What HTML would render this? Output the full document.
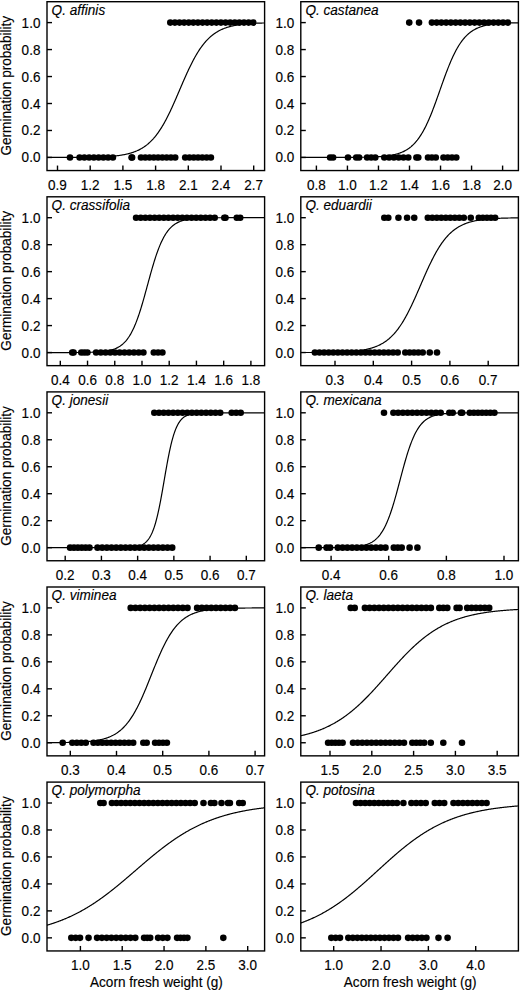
<!DOCTYPE html><html><head><meta charset="utf-8"><style>
html,body{margin:0;padding:0;background:#fff;}
svg{display:block;}
text{font-family:"Liberation Sans",sans-serif;fill:#000;stroke:#000;stroke-width:0.15px;}
</style></head><body>
<svg width="520" height="991" viewBox="0 0 520 991">
<rect width="520" height="991" fill="#fff"/>
<clipPath id="c00"><rect x="47.00" y="1.70" width="217.60" height="168.85"/></clipPath>
<polyline clip-path="url(#c00)" points="47.00,157.44 47.50,157.44 48.00,157.44 48.50,157.44 49.00,157.43 49.50,157.43 50.00,157.43 50.50,157.43 51.00,157.43 51.50,157.43 52.00,157.43 52.50,157.43 53.00,157.43 53.50,157.43 54.00,157.43 54.50,157.43 55.00,157.43 55.50,157.43 56.00,157.42 56.50,157.42 57.00,157.42 57.50,157.42 58.00,157.42 58.50,157.42 59.00,157.42 59.50,157.42 60.00,157.42 60.50,157.42 61.00,157.41 61.50,157.41 62.00,157.41 62.50,157.41 63.00,157.41 63.50,157.41 64.00,157.41 64.50,157.40 65.00,157.40 65.50,157.40 66.00,157.40 66.50,157.40 67.00,157.40 67.50,157.39 68.00,157.39 68.50,157.39 69.00,157.39 69.50,157.39 70.00,157.38 70.50,157.38 71.00,157.38 71.50,157.38 72.00,157.37 72.50,157.37 73.00,157.37 73.50,157.36 74.00,157.36 74.50,157.36 75.00,157.36 75.50,157.35 76.00,157.35 76.50,157.35 77.00,157.34 77.50,157.34 78.00,157.33 78.50,157.33 79.00,157.33 79.50,157.32 80.00,157.32 80.50,157.31 81.00,157.31 81.50,157.30 82.00,157.30 82.50,157.29 83.00,157.29 83.50,157.28 84.00,157.27 84.50,157.27 85.00,157.26 85.50,157.25 86.00,157.25 86.50,157.24 87.00,157.23 87.50,157.23 88.00,157.22 88.50,157.21 89.00,157.20 89.50,157.19 90.00,157.18 90.50,157.17 91.00,157.16 91.50,157.15 92.00,157.14 92.50,157.13 93.00,157.12 93.50,157.11 94.00,157.10 94.50,157.09 95.00,157.07 95.50,157.06 96.00,157.05 96.50,157.03 97.00,157.02 97.50,157.00 98.00,156.99 98.50,156.97 99.00,156.95 99.50,156.93 100.00,156.92 100.50,156.90 101.00,156.88 101.50,156.86 102.00,156.84 102.50,156.82 103.00,156.79 103.50,156.77 104.00,156.75 104.50,156.72 105.00,156.70 105.50,156.67 106.00,156.64 106.50,156.61 107.00,156.58 107.50,156.55 108.00,156.52 108.50,156.49 109.00,156.46 109.50,156.42 110.00,156.39 110.50,156.35 111.00,156.31 111.50,156.27 112.00,156.23 112.50,156.19 113.00,156.14 113.50,156.10 114.00,156.05 114.50,156.00 115.00,155.95 115.50,155.90 116.00,155.84 116.50,155.79 117.00,155.73 117.50,155.67 118.00,155.60 118.50,155.54 119.00,155.47 119.50,155.41 120.00,155.33 120.50,155.26 121.00,155.18 121.50,155.11 122.00,155.02 122.50,154.94 123.00,154.85 123.50,154.76 124.00,154.67 124.50,154.57 125.00,154.48 125.50,154.37 126.00,154.27 126.50,154.16 127.00,154.04 127.50,153.93 128.00,153.80 128.50,153.68 129.00,153.55 129.50,153.42 130.00,153.28 130.50,153.14 131.00,152.99 131.50,152.84 132.00,152.68 132.50,152.52 133.00,152.35 133.50,152.18 134.00,152.00 134.50,151.81 135.00,151.62 135.50,151.42 136.00,151.22 136.50,151.01 137.00,150.80 137.50,150.57 138.00,150.34 138.50,150.11 139.00,149.86 139.50,149.61 140.00,149.35 140.50,149.08 141.00,148.80 141.50,148.52 142.00,148.22 142.50,147.92 143.00,147.61 143.50,147.29 144.00,146.95 144.50,146.61 145.00,146.26 145.50,145.90 146.00,145.53 146.50,145.15 147.00,144.75 147.50,144.35 148.00,143.93 148.50,143.50 149.00,143.06 149.50,142.61 150.00,142.15 150.50,141.67 151.00,141.18 151.50,140.67 152.00,140.16 152.50,139.63 153.00,139.08 153.50,138.53 154.00,137.95 154.50,137.37 155.00,136.77 155.50,136.15 156.00,135.52 156.50,134.88 157.00,134.22 157.50,133.54 158.00,132.85 158.50,132.14 159.00,131.42 159.50,130.69 160.00,129.93 160.50,129.16 161.00,128.38 161.50,127.58 162.00,126.77 162.50,125.93 163.00,125.09 163.50,124.23 164.00,123.35 164.50,122.46 165.00,121.55 165.50,120.63 166.00,119.69 166.50,118.74 167.00,117.78 167.50,116.80 168.00,115.80 168.50,114.80 169.00,113.78 169.50,112.75 170.00,111.70 170.50,110.65 171.00,109.58 171.50,108.50 172.00,107.42 172.50,106.32 173.00,105.21 173.50,104.10 174.00,102.97 174.50,101.84 175.00,100.70 175.50,99.56 176.00,98.41 176.50,97.25 177.00,96.10 177.50,94.93 178.00,93.77 178.50,92.60 179.00,91.43 179.50,90.26 180.00,89.09 180.50,87.92 181.00,86.75 181.50,85.58 182.00,84.42 182.50,83.26 183.00,82.10 183.50,80.95 184.00,79.80 184.50,78.66 185.00,77.53 185.50,76.40 186.00,75.28 186.50,74.17 187.00,73.07 187.50,71.98 188.00,70.90 188.50,69.83 189.00,68.77 189.50,67.72 190.00,66.68 190.50,65.66 191.00,64.65 191.50,63.65 192.00,62.66 192.50,61.69 193.00,60.74 193.50,59.79 194.00,58.87 194.50,57.95 195.00,57.06 195.50,56.17 196.00,55.30 196.50,54.45 197.00,53.61 197.50,52.79 198.00,51.99 198.50,51.20 199.00,50.42 199.50,49.66 200.00,48.92 200.50,48.19 201.00,47.48 201.50,46.78 202.00,46.10 202.50,45.44 203.00,44.79 203.50,44.15 204.00,43.53 204.50,42.92 205.00,42.33 205.50,41.75 206.00,41.19 206.50,40.64 207.00,40.10 207.50,39.58 208.00,39.07 208.50,38.58 209.00,38.09 209.50,37.62 210.00,37.17 210.50,36.72 211.00,36.29 211.50,35.87 212.00,35.46 212.50,35.06 213.00,34.67 213.50,34.30 214.00,33.93 214.50,33.58 215.00,33.23 215.50,32.90 216.00,32.57 216.50,32.25 217.00,31.95 217.50,31.65 218.00,31.36 218.50,31.08 219.00,30.81 219.50,30.55 220.00,30.29 220.50,30.04 221.00,29.80 221.50,29.57 222.00,29.34 222.50,29.12 223.00,28.91 223.50,28.71 224.00,28.51 224.50,28.31 225.00,28.13 225.50,27.95 226.00,27.77 226.50,27.60 227.00,27.44 227.50,27.28 228.00,27.12 228.50,26.97 229.00,26.83 229.50,26.69 230.00,26.55 230.50,26.42 231.00,26.29 231.50,26.17 232.00,26.05 232.50,25.94 233.00,25.83 233.50,25.72 234.00,25.62 234.50,25.51 235.00,25.42 235.50,25.32 236.00,25.23 236.50,25.14 237.00,25.06 237.50,24.98 238.00,24.90 238.50,24.82 239.00,24.74 239.50,24.67 240.00,24.60 240.50,24.54 241.00,24.47 241.50,24.41 242.00,24.35 242.50,24.29 243.00,24.23 243.50,24.18 244.00,24.12 244.50,24.07 245.00,24.02 245.50,23.97 246.00,23.93 246.50,23.88 247.00,23.84 247.50,23.80 248.00,23.76 248.50,23.72 249.00,23.68 249.50,23.64 250.00,23.61 250.50,23.57 251.00,23.54 251.50,23.51 252.00,23.48 252.50,23.45 253.00,23.42 253.50,23.39 254.00,23.36 254.50,23.34 255.00,23.31 255.50,23.29 256.00,23.27 256.50,23.24 257.00,23.22 257.50,23.20 258.00,23.18 258.50,23.16 259.00,23.14 259.50,23.12 260.00,23.11 260.50,23.09 261.00,23.07 261.50,23.06 262.00,23.04 262.50,23.02 263.00,23.01 263.50,23.00 264.00,22.98 264.50,22.97" fill="none" stroke="#000" stroke-width="1.20"/>
<circle cx="170.30" cy="22.60" r="3.30"/>
<circle cx="174.91" cy="22.60" r="3.30"/>
<circle cx="179.51" cy="22.60" r="3.30"/>
<circle cx="184.12" cy="22.60" r="3.30"/>
<circle cx="188.72" cy="22.60" r="3.30"/>
<circle cx="193.33" cy="22.60" r="3.30"/>
<circle cx="197.93" cy="22.60" r="3.30"/>
<circle cx="202.54" cy="22.60" r="3.30"/>
<circle cx="207.14" cy="22.60" r="3.30"/>
<circle cx="211.75" cy="22.60" r="3.30"/>
<circle cx="216.36" cy="22.60" r="3.30"/>
<circle cx="220.96" cy="22.60" r="3.30"/>
<circle cx="225.57" cy="22.60" r="3.30"/>
<circle cx="230.17" cy="22.60" r="3.30"/>
<circle cx="234.78" cy="22.60" r="3.30"/>
<circle cx="239.38" cy="22.60" r="3.30"/>
<circle cx="243.99" cy="22.60" r="3.30"/>
<circle cx="248.59" cy="22.60" r="3.30"/>
<circle cx="253.20" cy="22.60" r="3.30"/>
<circle cx="70.00" cy="157.45" r="3.30"/>
<circle cx="79.60" cy="157.45" r="3.30"/>
<circle cx="84.36" cy="157.45" r="3.30"/>
<circle cx="89.11" cy="157.45" r="3.30"/>
<circle cx="93.87" cy="157.45" r="3.30"/>
<circle cx="98.63" cy="157.45" r="3.30"/>
<circle cx="103.39" cy="157.45" r="3.30"/>
<circle cx="108.14" cy="157.45" r="3.30"/>
<circle cx="112.90" cy="157.45" r="3.30"/>
<circle cx="131.60" cy="157.45" r="3.30"/>
<circle cx="132.10" cy="157.45" r="3.30"/>
<circle cx="141.00" cy="157.45" r="3.30"/>
<circle cx="145.28" cy="157.45" r="3.30"/>
<circle cx="149.55" cy="157.45" r="3.30"/>
<circle cx="153.82" cy="157.45" r="3.30"/>
<circle cx="158.10" cy="157.45" r="3.30"/>
<circle cx="162.38" cy="157.45" r="3.30"/>
<circle cx="166.65" cy="157.45" r="3.30"/>
<circle cx="170.92" cy="157.45" r="3.30"/>
<circle cx="175.20" cy="157.45" r="3.30"/>
<circle cx="185.20" cy="157.45" r="3.30"/>
<circle cx="189.48" cy="157.45" r="3.30"/>
<circle cx="193.77" cy="157.45" r="3.30"/>
<circle cx="198.05" cy="157.45" r="3.30"/>
<circle cx="202.33" cy="157.45" r="3.30"/>
<circle cx="206.62" cy="157.45" r="3.30"/>
<circle cx="210.90" cy="157.45" r="3.30"/>
<rect x="47.00" y="1.70" width="217.60" height="168.85" fill="none" stroke="#000" stroke-width="1.40"/>
<line x1="47.00" y1="157.45" x2="52.00" y2="157.45" stroke="#000" stroke-width="1.40"/>
<text transform="translate(40.40,162.45) scale(0.965,1)" font-size="14.00" text-anchor="end">0.0</text>
<line x1="47.00" y1="130.48" x2="52.00" y2="130.48" stroke="#000" stroke-width="1.40"/>
<text transform="translate(40.40,135.48) scale(0.965,1)" font-size="14.00" text-anchor="end">0.2</text>
<line x1="47.00" y1="103.51" x2="52.00" y2="103.51" stroke="#000" stroke-width="1.40"/>
<text transform="translate(40.40,108.51) scale(0.965,1)" font-size="14.00" text-anchor="end">0.4</text>
<line x1="47.00" y1="76.54" x2="52.00" y2="76.54" stroke="#000" stroke-width="1.40"/>
<text transform="translate(40.40,81.54) scale(0.965,1)" font-size="14.00" text-anchor="end">0.6</text>
<line x1="47.00" y1="49.57" x2="52.00" y2="49.57" stroke="#000" stroke-width="1.40"/>
<text transform="translate(40.40,54.57) scale(0.965,1)" font-size="14.00" text-anchor="end">0.8</text>
<line x1="47.00" y1="22.60" x2="52.00" y2="22.60" stroke="#000" stroke-width="1.40"/>
<text transform="translate(40.40,27.60) scale(0.965,1)" font-size="14.00" text-anchor="end">1.0</text>
<line x1="57.50" y1="170.55" x2="57.50" y2="165.55" stroke="#000" stroke-width="1.40"/>
<text transform="translate(57.50,189.70) scale(0.965,1)" font-size="14.00" text-anchor="middle">0.9</text>
<line x1="90.20" y1="170.55" x2="90.20" y2="165.55" stroke="#000" stroke-width="1.40"/>
<text transform="translate(90.20,189.70) scale(0.965,1)" font-size="14.00" text-anchor="middle">1.2</text>
<line x1="122.90" y1="170.55" x2="122.90" y2="165.55" stroke="#000" stroke-width="1.40"/>
<text transform="translate(122.90,189.70) scale(0.965,1)" font-size="14.00" text-anchor="middle">1.5</text>
<line x1="155.60" y1="170.55" x2="155.60" y2="165.55" stroke="#000" stroke-width="1.40"/>
<text transform="translate(155.60,189.70) scale(0.965,1)" font-size="14.00" text-anchor="middle">1.8</text>
<line x1="188.30" y1="170.55" x2="188.30" y2="165.55" stroke="#000" stroke-width="1.40"/>
<text transform="translate(188.30,189.70) scale(0.965,1)" font-size="14.00" text-anchor="middle">2.1</text>
<line x1="221.00" y1="170.55" x2="221.00" y2="165.55" stroke="#000" stroke-width="1.40"/>
<text transform="translate(221.00,189.70) scale(0.965,1)" font-size="14.00" text-anchor="middle">2.4</text>
<line x1="253.70" y1="170.55" x2="253.70" y2="165.55" stroke="#000" stroke-width="1.40"/>
<text transform="translate(253.70,189.70) scale(0.965,1)" font-size="14.00" text-anchor="middle">2.7</text>
<text transform="translate(51.60,14.60) scale(0.971,1)" font-size="14.00" font-style="italic">Q. affinis</text>
<text transform="translate(10.80,85.72) rotate(-90) scale(0.971,1)" font-size="14.00" text-anchor="middle">Germination probability</text>
<clipPath id="c01"><rect x="300.80" y="1.70" width="217.60" height="168.85"/></clipPath>
<polyline clip-path="url(#c01)" points="300.80,157.45 301.30,157.45 301.80,157.45 302.30,157.45 302.80,157.45 303.30,157.45 303.80,157.45 304.30,157.45 304.80,157.45 305.30,157.45 305.80,157.45 306.30,157.45 306.80,157.45 307.30,157.45 307.80,157.45 308.30,157.45 308.80,157.45 309.30,157.45 309.80,157.45 310.30,157.45 310.80,157.45 311.30,157.45 311.80,157.45 312.30,157.45 312.80,157.45 313.30,157.45 313.80,157.45 314.30,157.45 314.80,157.45 315.30,157.45 315.80,157.45 316.30,157.45 316.80,157.45 317.30,157.45 317.80,157.45 318.30,157.45 318.80,157.45 319.30,157.44 319.80,157.44 320.30,157.44 320.80,157.44 321.30,157.44 321.80,157.44 322.30,157.44 322.80,157.44 323.30,157.44 323.80,157.44 324.30,157.44 324.80,157.44 325.30,157.44 325.80,157.44 326.30,157.44 326.80,157.44 327.30,157.44 327.80,157.44 328.30,157.44 328.80,157.44 329.30,157.44 329.80,157.44 330.30,157.44 330.80,157.44 331.30,157.44 331.80,157.44 332.30,157.43 332.80,157.43 333.30,157.43 333.80,157.43 334.30,157.43 334.80,157.43 335.30,157.43 335.80,157.43 336.30,157.43 336.80,157.43 337.30,157.43 337.80,157.43 338.30,157.42 338.80,157.42 339.30,157.42 339.80,157.42 340.30,157.42 340.80,157.42 341.30,157.42 341.80,157.42 342.30,157.41 342.80,157.41 343.30,157.41 343.80,157.41 344.30,157.41 344.80,157.41 345.30,157.40 345.80,157.40 346.30,157.40 346.80,157.40 347.30,157.40 347.80,157.39 348.30,157.39 348.80,157.39 349.30,157.39 349.80,157.38 350.30,157.38 350.80,157.38 351.30,157.37 351.80,157.37 352.30,157.37 352.80,157.36 353.30,157.36 353.80,157.36 354.30,157.35 354.80,157.35 355.30,157.34 355.80,157.34 356.30,157.33 356.80,157.33 357.30,157.32 357.80,157.32 358.30,157.31 358.80,157.31 359.30,157.30 359.80,157.29 360.30,157.29 360.80,157.28 361.30,157.27 361.80,157.27 362.30,157.26 362.80,157.25 363.30,157.24 363.80,157.23 364.30,157.22 364.80,157.21 365.30,157.20 365.80,157.19 366.30,157.18 366.80,157.17 367.30,157.16 367.80,157.14 368.30,157.13 368.80,157.12 369.30,157.10 369.80,157.09 370.30,157.07 370.80,157.06 371.30,157.04 371.80,157.02 372.30,157.00 372.80,156.98 373.30,156.96 373.80,156.94 374.30,156.92 374.80,156.90 375.30,156.88 375.80,156.85 376.30,156.83 376.80,156.80 377.30,156.77 377.80,156.74 378.30,156.71 378.80,156.68 379.30,156.65 379.80,156.61 380.30,156.58 380.80,156.54 381.30,156.50 381.80,156.46 382.30,156.42 382.80,156.37 383.30,156.33 383.80,156.28 384.30,156.23 384.80,156.18 385.30,156.12 385.80,156.07 386.30,156.01 386.80,155.95 387.30,155.88 387.80,155.82 388.30,155.75 388.80,155.67 389.30,155.60 389.80,155.52 390.30,155.44 390.80,155.35 391.30,155.27 391.80,155.17 392.30,155.08 392.80,154.98 393.30,154.87 393.80,154.76 394.30,154.65 394.80,154.53 395.30,154.41 395.80,154.28 396.30,154.15 396.80,154.01 397.30,153.86 397.80,153.71 398.30,153.56 398.80,153.40 399.30,153.23 399.80,153.05 400.30,152.87 400.80,152.68 401.30,152.48 401.80,152.27 402.30,152.06 402.80,151.84 403.30,151.61 403.80,151.37 404.30,151.12 404.80,150.86 405.30,150.59 405.80,150.31 406.30,150.02 406.80,149.71 407.30,149.40 407.80,149.08 408.30,148.74 408.80,148.39 409.30,148.03 409.80,147.65 410.30,147.26 410.80,146.86 411.30,146.44 411.80,146.00 412.30,145.55 412.80,145.09 413.30,144.61 413.80,144.11 414.30,143.59 414.80,143.06 415.30,142.51 415.80,141.94 416.30,141.35 416.80,140.74 417.30,140.12 417.80,139.47 418.30,138.80 418.80,138.12 419.30,137.41 419.80,136.68 420.30,135.93 420.80,135.15 421.30,134.36 421.80,133.54 422.30,132.70 422.80,131.83 423.30,130.95 423.80,130.04 424.30,129.11 424.80,128.15 425.30,127.17 425.80,126.17 426.30,125.15 426.80,124.10 427.30,123.03 427.80,121.94 428.30,120.82 428.80,119.69 429.30,118.53 429.80,117.35 430.30,116.16 430.80,114.94 431.30,113.70 431.80,112.45 432.30,111.17 432.80,109.89 433.30,108.58 433.80,107.26 434.30,105.92 434.80,104.57 435.30,103.21 435.80,101.84 436.30,100.46 436.80,99.07 437.30,97.67 437.80,96.26 438.30,94.85 438.80,93.43 439.30,92.01 439.80,90.59 440.30,89.17 440.80,87.75 441.30,86.33 441.80,84.92 442.30,83.51 442.80,82.10 443.30,80.70 443.80,79.31 444.30,77.93 444.80,76.56 445.30,75.21 445.80,73.86 446.30,72.53 446.80,71.21 447.30,69.91 447.80,68.62 448.30,67.35 448.80,66.10 449.30,64.87 449.80,63.65 450.30,62.46 450.80,61.28 451.30,60.13 451.80,59.00 452.30,57.89 452.80,56.80 453.30,55.74 453.80,54.70 454.30,53.68 454.80,52.68 455.30,51.71 455.80,50.76 456.30,49.83 456.80,48.92 457.30,48.04 457.80,47.18 458.30,46.35 458.80,45.53 459.30,44.74 459.80,43.97 460.30,43.23 460.80,42.50 461.30,41.80 461.80,41.11 462.30,40.45 462.80,39.81 463.30,39.18 463.80,38.58 464.30,37.99 464.80,37.43 465.30,36.88 465.80,36.35 466.30,35.84 466.80,35.35 467.30,34.87 467.80,34.41 468.30,33.96 468.80,33.53 469.30,33.11 469.80,32.71 470.30,32.32 470.80,31.95 471.30,31.59 471.80,31.24 472.30,30.91 472.80,30.58 473.30,30.27 473.80,29.97 474.30,29.69 474.80,29.41 475.30,29.14 475.80,28.88 476.30,28.64 476.80,28.40 477.30,28.17 477.80,27.95 478.30,27.73 478.80,27.53 479.30,27.33 479.80,27.15 480.30,26.96 480.80,26.79 481.30,26.62 481.80,26.46 482.30,26.31 482.80,26.16 483.30,26.01 483.80,25.88 484.30,25.74 484.80,25.62 485.30,25.49 485.80,25.38 486.30,25.27 486.80,25.16 487.30,25.05 487.80,24.95 488.30,24.86 488.80,24.77 489.30,24.68 489.80,24.59 490.30,24.51 490.80,24.44 491.30,24.36 491.80,24.29 492.30,24.22 492.80,24.15 493.30,24.09 493.80,24.03 494.30,23.97 494.80,23.91 495.30,23.86 495.80,23.81 496.30,23.76 496.80,23.71 497.30,23.67 497.80,23.62 498.30,23.58 498.80,23.54 499.30,23.50 499.80,23.47 500.30,23.43 500.80,23.40 501.30,23.36 501.80,23.33 502.30,23.30 502.80,23.27 503.30,23.25 503.80,23.22 504.30,23.19 504.80,23.17 505.30,23.15 505.80,23.12 506.30,23.10 506.80,23.08 507.30,23.06 507.80,23.04 508.30,23.02 508.80,23.01 509.30,22.99 509.80,22.97 510.30,22.96 510.80,22.94 511.30,22.93 511.80,22.92 512.30,22.90 512.80,22.89 513.30,22.88 513.80,22.87 514.30,22.86 514.80,22.85 515.30,22.84 515.80,22.83 516.30,22.82 516.80,22.81 517.30,22.80 517.80,22.79 518.30,22.78" fill="none" stroke="#000" stroke-width="1.20"/>
<circle cx="409.25" cy="22.60" r="3.30"/>
<circle cx="419.05" cy="22.60" r="3.30"/>
<circle cx="431.90" cy="22.60" r="3.30"/>
<circle cx="436.64" cy="22.60" r="3.30"/>
<circle cx="441.39" cy="22.60" r="3.30"/>
<circle cx="446.13" cy="22.60" r="3.30"/>
<circle cx="450.88" cy="22.60" r="3.30"/>
<circle cx="455.62" cy="22.60" r="3.30"/>
<circle cx="460.36" cy="22.60" r="3.30"/>
<circle cx="465.11" cy="22.60" r="3.30"/>
<circle cx="469.85" cy="22.60" r="3.30"/>
<circle cx="474.59" cy="22.60" r="3.30"/>
<circle cx="479.34" cy="22.60" r="3.30"/>
<circle cx="484.08" cy="22.60" r="3.30"/>
<circle cx="488.83" cy="22.60" r="3.30"/>
<circle cx="493.57" cy="22.60" r="3.30"/>
<circle cx="498.31" cy="22.60" r="3.30"/>
<circle cx="503.06" cy="22.60" r="3.30"/>
<circle cx="507.80" cy="22.60" r="3.30"/>
<circle cx="330.10" cy="157.45" r="3.30"/>
<circle cx="333.10" cy="157.45" r="3.30"/>
<circle cx="348.00" cy="157.45" r="3.30"/>
<circle cx="356.20" cy="157.45" r="3.30"/>
<circle cx="359.10" cy="157.45" r="3.30"/>
<circle cx="367.10" cy="157.45" r="3.30"/>
<circle cx="371.20" cy="157.45" r="3.30"/>
<circle cx="375.30" cy="157.45" r="3.30"/>
<circle cx="384.30" cy="157.45" r="3.30"/>
<circle cx="389.10" cy="157.45" r="3.30"/>
<circle cx="393.90" cy="157.45" r="3.30"/>
<circle cx="398.70" cy="157.45" r="3.30"/>
<circle cx="403.50" cy="157.45" r="3.30"/>
<circle cx="408.30" cy="157.45" r="3.30"/>
<circle cx="416.40" cy="157.45" r="3.30"/>
<circle cx="418.30" cy="157.45" r="3.30"/>
<circle cx="428.00" cy="157.45" r="3.30"/>
<circle cx="431.90" cy="157.45" r="3.30"/>
<circle cx="435.80" cy="157.45" r="3.30"/>
<circle cx="443.50" cy="157.45" r="3.30"/>
<circle cx="447.77" cy="157.45" r="3.30"/>
<circle cx="452.03" cy="157.45" r="3.30"/>
<circle cx="456.30" cy="157.45" r="3.30"/>
<rect x="300.80" y="1.70" width="217.60" height="168.85" fill="none" stroke="#000" stroke-width="1.40"/>
<line x1="300.80" y1="157.45" x2="305.80" y2="157.45" stroke="#000" stroke-width="1.40"/>
<text transform="translate(294.20,162.45) scale(0.965,1)" font-size="14.00" text-anchor="end">0.0</text>
<line x1="300.80" y1="130.48" x2="305.80" y2="130.48" stroke="#000" stroke-width="1.40"/>
<text transform="translate(294.20,135.48) scale(0.965,1)" font-size="14.00" text-anchor="end">0.2</text>
<line x1="300.80" y1="103.51" x2="305.80" y2="103.51" stroke="#000" stroke-width="1.40"/>
<text transform="translate(294.20,108.51) scale(0.965,1)" font-size="14.00" text-anchor="end">0.4</text>
<line x1="300.80" y1="76.54" x2="305.80" y2="76.54" stroke="#000" stroke-width="1.40"/>
<text transform="translate(294.20,81.54) scale(0.965,1)" font-size="14.00" text-anchor="end">0.6</text>
<line x1="300.80" y1="49.57" x2="305.80" y2="49.57" stroke="#000" stroke-width="1.40"/>
<text transform="translate(294.20,54.57) scale(0.965,1)" font-size="14.00" text-anchor="end">0.8</text>
<line x1="300.80" y1="22.60" x2="305.80" y2="22.60" stroke="#000" stroke-width="1.40"/>
<text transform="translate(294.20,27.60) scale(0.965,1)" font-size="14.00" text-anchor="end">1.0</text>
<line x1="316.40" y1="170.55" x2="316.40" y2="165.55" stroke="#000" stroke-width="1.40"/>
<text transform="translate(316.40,189.70) scale(0.965,1)" font-size="14.00" text-anchor="middle">0.8</text>
<line x1="347.43" y1="170.55" x2="347.43" y2="165.55" stroke="#000" stroke-width="1.40"/>
<text transform="translate(347.43,189.70) scale(0.965,1)" font-size="14.00" text-anchor="middle">1.0</text>
<line x1="378.47" y1="170.55" x2="378.47" y2="165.55" stroke="#000" stroke-width="1.40"/>
<text transform="translate(378.47,189.70) scale(0.965,1)" font-size="14.00" text-anchor="middle">1.2</text>
<line x1="409.50" y1="170.55" x2="409.50" y2="165.55" stroke="#000" stroke-width="1.40"/>
<text transform="translate(409.50,189.70) scale(0.965,1)" font-size="14.00" text-anchor="middle">1.4</text>
<line x1="440.53" y1="170.55" x2="440.53" y2="165.55" stroke="#000" stroke-width="1.40"/>
<text transform="translate(440.53,189.70) scale(0.965,1)" font-size="14.00" text-anchor="middle">1.6</text>
<line x1="471.57" y1="170.55" x2="471.57" y2="165.55" stroke="#000" stroke-width="1.40"/>
<text transform="translate(471.57,189.70) scale(0.965,1)" font-size="14.00" text-anchor="middle">1.8</text>
<line x1="502.60" y1="170.55" x2="502.60" y2="165.55" stroke="#000" stroke-width="1.40"/>
<text transform="translate(502.60,189.70) scale(0.965,1)" font-size="14.00" text-anchor="middle">2.0</text>
<text transform="translate(305.40,14.60) scale(0.971,1)" font-size="14.00" font-style="italic">Q. castanea</text>
<clipPath id="c10"><rect x="47.00" y="196.80" width="217.60" height="168.85"/></clipPath>
<polyline clip-path="url(#c10)" points="47.00,352.55 47.50,352.55 48.00,352.55 48.50,352.55 49.00,352.55 49.50,352.55 50.00,352.55 50.50,352.55 51.00,352.55 51.50,352.55 52.00,352.55 52.50,352.55 53.00,352.55 53.50,352.55 54.00,352.55 54.50,352.54 55.00,352.54 55.50,352.54 56.00,352.54 56.50,352.54 57.00,352.54 57.50,352.54 58.00,352.54 58.50,352.54 59.00,352.54 59.50,352.54 60.00,352.54 60.50,352.54 61.00,352.54 61.50,352.54 62.00,352.54 62.50,352.54 63.00,352.54 63.50,352.54 64.00,352.54 64.50,352.53 65.00,352.53 65.50,352.53 66.00,352.53 66.50,352.53 67.00,352.53 67.50,352.53 68.00,352.53 68.50,352.53 69.00,352.52 69.50,352.52 70.00,352.52 70.50,352.52 71.00,352.52 71.50,352.52 72.00,352.51 72.50,352.51 73.00,352.51 73.50,352.51 74.00,352.51 74.50,352.50 75.00,352.50 75.50,352.50 76.00,352.50 76.50,352.49 77.00,352.49 77.50,352.49 78.00,352.48 78.50,352.48 79.00,352.47 79.50,352.47 80.00,352.47 80.50,352.46 81.00,352.46 81.50,352.45 82.00,352.44 82.50,352.44 83.00,352.43 83.50,352.43 84.00,352.42 84.50,352.41 85.00,352.40 85.50,352.40 86.00,352.39 86.50,352.38 87.00,352.37 87.50,352.36 88.00,352.35 88.50,352.34 89.00,352.32 89.50,352.31 90.00,352.30 90.50,352.28 91.00,352.27 91.50,352.25 92.00,352.24 92.50,352.22 93.00,352.20 93.50,352.18 94.00,352.16 94.50,352.14 95.00,352.11 95.50,352.09 96.00,352.06 96.50,352.04 97.00,352.01 97.50,351.98 98.00,351.95 98.50,351.91 99.00,351.88 99.50,351.84 100.00,351.80 100.50,351.76 101.00,351.71 101.50,351.67 102.00,351.62 102.50,351.57 103.00,351.51 103.50,351.45 104.00,351.39 104.50,351.33 105.00,351.26 105.50,351.19 106.00,351.11 106.50,351.03 107.00,350.95 107.50,350.86 108.00,350.77 108.50,350.67 109.00,350.56 109.50,350.45 110.00,350.34 110.50,350.22 111.00,350.09 111.50,349.95 112.00,349.81 112.50,349.66 113.00,349.50 113.50,349.33 114.00,349.16 114.50,348.97 115.00,348.78 115.50,348.57 116.00,348.36 116.50,348.13 117.00,347.89 117.50,347.64 118.00,347.37 118.50,347.09 119.00,346.80 119.50,346.49 120.00,346.17 120.50,345.83 121.00,345.47 121.50,345.10 122.00,344.70 122.50,344.29 123.00,343.85 123.50,343.40 124.00,342.92 124.50,342.42 125.00,341.90 125.50,341.35 126.00,340.78 126.50,340.18 127.00,339.55 127.50,338.90 128.00,338.21 128.50,337.50 129.00,336.75 129.50,335.97 130.00,335.16 130.50,334.32 131.00,333.44 131.50,332.53 132.00,331.58 132.50,330.60 133.00,329.57 133.50,328.52 134.00,327.42 134.50,326.28 135.00,325.11 135.50,323.90 136.00,322.65 136.50,321.36 137.00,320.03 137.50,318.66 138.00,317.26 138.50,315.82 139.00,314.34 139.50,312.83 140.00,311.28 140.50,309.70 141.00,308.09 141.50,306.45 142.00,304.78 142.50,303.08 143.00,301.36 143.50,299.62 144.00,297.85 144.50,296.07 145.00,294.27 145.50,292.46 146.00,290.63 146.50,288.80 147.00,286.96 147.50,285.12 148.00,283.29 148.50,281.45 149.00,279.62 149.50,277.79 150.00,275.98 150.50,274.18 151.00,272.40 151.50,270.63 152.00,268.89 152.50,267.17 153.00,265.47 153.50,263.80 154.00,262.16 154.50,260.55 155.00,258.97 155.50,257.42 156.00,255.91 156.50,254.43 157.00,252.99 157.50,251.59 158.00,250.22 158.50,248.89 159.00,247.60 159.50,246.35 160.00,245.14 160.50,243.97 161.00,242.83 161.50,241.73 162.00,240.68 162.50,239.65 163.00,238.67 163.50,237.72 164.00,236.81 164.50,235.93 165.00,235.09 165.50,234.28 166.00,233.50 166.50,232.75 167.00,232.04 167.50,231.35 168.00,230.70 168.50,230.07 169.00,229.47 169.50,228.90 170.00,228.35 170.50,227.83 171.00,227.33 171.50,226.85 172.00,226.40 172.50,225.96 173.00,225.55 173.50,225.15 174.00,224.78 174.50,224.42 175.00,224.08 175.50,223.76 176.00,223.45 176.50,223.16 177.00,222.88 177.50,222.61 178.00,222.36 178.50,222.12 179.00,221.89 179.50,221.68 180.00,221.47 180.50,221.28 181.00,221.09 181.50,220.92 182.00,220.75 182.50,220.59 183.00,220.44 183.50,220.30 184.00,220.16 184.50,220.03 185.00,219.91 185.50,219.80 186.00,219.69 186.50,219.58 187.00,219.48 187.50,219.39 188.00,219.30 188.50,219.22 189.00,219.14 189.50,219.06 190.00,218.99 190.50,218.92 191.00,218.86 191.50,218.80 192.00,218.74 192.50,218.68 193.00,218.63 193.50,218.58 194.00,218.54 194.50,218.49 195.00,218.45 195.50,218.41 196.00,218.37 196.50,218.34 197.00,218.30 197.50,218.27 198.00,218.24 198.50,218.21 199.00,218.19 199.50,218.16 200.00,218.14 200.50,218.11 201.00,218.09 201.50,218.07 202.00,218.05 202.50,218.03 203.00,218.01 203.50,218.00 204.00,217.98 204.50,217.97 205.00,217.95 205.50,217.94 206.00,217.93 206.50,217.91 207.00,217.90 207.50,217.89 208.00,217.88 208.50,217.87 209.00,217.86 209.50,217.85 210.00,217.85 210.50,217.84 211.00,217.83 211.50,217.82 212.00,217.82 212.50,217.81 213.00,217.81 213.50,217.80 214.00,217.79 214.50,217.79 215.00,217.78 215.50,217.78 216.00,217.78 216.50,217.77 217.00,217.77 217.50,217.76 218.00,217.76 218.50,217.76 219.00,217.75 219.50,217.75 220.00,217.75 220.50,217.75 221.00,217.74 221.50,217.74 222.00,217.74 222.50,217.74 223.00,217.74 223.50,217.73 224.00,217.73 224.50,217.73 225.00,217.73 225.50,217.73 226.00,217.73 226.50,217.72 227.00,217.72 227.50,217.72 228.00,217.72 228.50,217.72 229.00,217.72 229.50,217.72 230.00,217.72 230.50,217.72 231.00,217.71 231.50,217.71 232.00,217.71 232.50,217.71 233.00,217.71 233.50,217.71 234.00,217.71 234.50,217.71 235.00,217.71 235.50,217.71 236.00,217.71 236.50,217.71 237.00,217.71 237.50,217.71 238.00,217.71 238.50,217.71 239.00,217.71 239.50,217.71 240.00,217.71 240.50,217.71 241.00,217.70 241.50,217.70 242.00,217.70 242.50,217.70 243.00,217.70 243.50,217.70 244.00,217.70 244.50,217.70 245.00,217.70 245.50,217.70 246.00,217.70 246.50,217.70 247.00,217.70 247.50,217.70 248.00,217.70 248.50,217.70 249.00,217.70 249.50,217.70 250.00,217.70 250.50,217.70 251.00,217.70 251.50,217.70 252.00,217.70 252.50,217.70 253.00,217.70 253.50,217.70 254.00,217.70 254.50,217.70 255.00,217.70 255.50,217.70 256.00,217.70 256.50,217.70 257.00,217.70 257.50,217.70 258.00,217.70 258.50,217.70 259.00,217.70 259.50,217.70 260.00,217.70 260.50,217.70 261.00,217.70 261.50,217.70 262.00,217.70 262.50,217.70 263.00,217.70 263.50,217.70 264.00,217.70 264.50,217.70" fill="none" stroke="#000" stroke-width="1.20"/>
<circle cx="136.10" cy="217.70" r="3.30"/>
<circle cx="140.72" cy="217.70" r="3.30"/>
<circle cx="145.35" cy="217.70" r="3.30"/>
<circle cx="149.97" cy="217.70" r="3.30"/>
<circle cx="154.59" cy="217.70" r="3.30"/>
<circle cx="159.22" cy="217.70" r="3.30"/>
<circle cx="163.84" cy="217.70" r="3.30"/>
<circle cx="168.46" cy="217.70" r="3.30"/>
<circle cx="173.09" cy="217.70" r="3.30"/>
<circle cx="177.71" cy="217.70" r="3.30"/>
<circle cx="182.34" cy="217.70" r="3.30"/>
<circle cx="186.96" cy="217.70" r="3.30"/>
<circle cx="191.58" cy="217.70" r="3.30"/>
<circle cx="196.21" cy="217.70" r="3.30"/>
<circle cx="200.83" cy="217.70" r="3.30"/>
<circle cx="205.45" cy="217.70" r="3.30"/>
<circle cx="210.08" cy="217.70" r="3.30"/>
<circle cx="214.70" cy="217.70" r="3.30"/>
<circle cx="224.30" cy="217.70" r="3.30"/>
<circle cx="225.50" cy="217.70" r="3.30"/>
<circle cx="236.80" cy="217.70" r="3.30"/>
<circle cx="240.20" cy="217.70" r="3.30"/>
<circle cx="72.20" cy="352.55" r="3.30"/>
<circle cx="73.60" cy="352.55" r="3.30"/>
<circle cx="81.30" cy="352.55" r="3.30"/>
<circle cx="84.35" cy="352.55" r="3.30"/>
<circle cx="87.40" cy="352.55" r="3.30"/>
<circle cx="96.10" cy="352.55" r="3.30"/>
<circle cx="100.83" cy="352.55" r="3.30"/>
<circle cx="105.56" cy="352.55" r="3.30"/>
<circle cx="110.29" cy="352.55" r="3.30"/>
<circle cx="115.02" cy="352.55" r="3.30"/>
<circle cx="119.75" cy="352.55" r="3.30"/>
<circle cx="124.48" cy="352.55" r="3.30"/>
<circle cx="129.21" cy="352.55" r="3.30"/>
<circle cx="133.94" cy="352.55" r="3.30"/>
<circle cx="138.67" cy="352.55" r="3.30"/>
<circle cx="143.40" cy="352.55" r="3.30"/>
<circle cx="153.80" cy="352.55" r="3.30"/>
<circle cx="158.10" cy="352.55" r="3.30"/>
<circle cx="162.40" cy="352.55" r="3.30"/>
<rect x="47.00" y="196.80" width="217.60" height="168.85" fill="none" stroke="#000" stroke-width="1.40"/>
<line x1="47.00" y1="352.55" x2="52.00" y2="352.55" stroke="#000" stroke-width="1.40"/>
<text transform="translate(40.40,357.55) scale(0.965,1)" font-size="14.00" text-anchor="end">0.0</text>
<line x1="47.00" y1="325.58" x2="52.00" y2="325.58" stroke="#000" stroke-width="1.40"/>
<text transform="translate(40.40,330.58) scale(0.965,1)" font-size="14.00" text-anchor="end">0.2</text>
<line x1="47.00" y1="298.61" x2="52.00" y2="298.61" stroke="#000" stroke-width="1.40"/>
<text transform="translate(40.40,303.61) scale(0.965,1)" font-size="14.00" text-anchor="end">0.4</text>
<line x1="47.00" y1="271.64" x2="52.00" y2="271.64" stroke="#000" stroke-width="1.40"/>
<text transform="translate(40.40,276.64) scale(0.965,1)" font-size="14.00" text-anchor="end">0.6</text>
<line x1="47.00" y1="244.67" x2="52.00" y2="244.67" stroke="#000" stroke-width="1.40"/>
<text transform="translate(40.40,249.67) scale(0.965,1)" font-size="14.00" text-anchor="end">0.8</text>
<line x1="47.00" y1="217.70" x2="52.00" y2="217.70" stroke="#000" stroke-width="1.40"/>
<text transform="translate(40.40,222.70) scale(0.965,1)" font-size="14.00" text-anchor="end">1.0</text>
<line x1="60.30" y1="365.65" x2="60.30" y2="360.65" stroke="#000" stroke-width="1.40"/>
<text transform="translate(60.30,384.80) scale(0.965,1)" font-size="14.00" text-anchor="middle">0.4</text>
<line x1="87.53" y1="365.65" x2="87.53" y2="360.65" stroke="#000" stroke-width="1.40"/>
<text transform="translate(87.53,384.80) scale(0.965,1)" font-size="14.00" text-anchor="middle">0.6</text>
<line x1="114.76" y1="365.65" x2="114.76" y2="360.65" stroke="#000" stroke-width="1.40"/>
<text transform="translate(114.76,384.80) scale(0.965,1)" font-size="14.00" text-anchor="middle">0.8</text>
<line x1="141.99" y1="365.65" x2="141.99" y2="360.65" stroke="#000" stroke-width="1.40"/>
<text transform="translate(141.99,384.80) scale(0.965,1)" font-size="14.00" text-anchor="middle">1.0</text>
<line x1="169.21" y1="365.65" x2="169.21" y2="360.65" stroke="#000" stroke-width="1.40"/>
<text transform="translate(169.21,384.80) scale(0.965,1)" font-size="14.00" text-anchor="middle">1.2</text>
<line x1="196.44" y1="365.65" x2="196.44" y2="360.65" stroke="#000" stroke-width="1.40"/>
<text transform="translate(196.44,384.80) scale(0.965,1)" font-size="14.00" text-anchor="middle">1.4</text>
<line x1="223.67" y1="365.65" x2="223.67" y2="360.65" stroke="#000" stroke-width="1.40"/>
<text transform="translate(223.67,384.80) scale(0.965,1)" font-size="14.00" text-anchor="middle">1.6</text>
<line x1="250.90" y1="365.65" x2="250.90" y2="360.65" stroke="#000" stroke-width="1.40"/>
<text transform="translate(250.90,384.80) scale(0.965,1)" font-size="14.00" text-anchor="middle">1.8</text>
<text transform="translate(51.60,209.70) scale(0.971,1)" font-size="14.00" font-style="italic">Q. crassifolia</text>
<text transform="translate(10.80,280.82) rotate(-90) scale(0.971,1)" font-size="14.00" text-anchor="middle">Germination probability</text>
<clipPath id="c11"><rect x="300.80" y="196.80" width="217.60" height="168.85"/></clipPath>
<polyline clip-path="url(#c11)" points="300.80,352.51 301.30,352.51 301.80,352.51 302.30,352.51 302.80,352.51 303.30,352.51 303.80,352.51 304.30,352.50 304.80,352.50 305.30,352.50 305.80,352.50 306.30,352.50 306.80,352.50 307.30,352.49 307.80,352.49 308.30,352.49 308.80,352.49 309.30,352.49 309.80,352.48 310.30,352.48 310.80,352.48 311.30,352.48 311.80,352.47 312.30,352.47 312.80,352.47 313.30,352.47 313.80,352.46 314.30,352.46 314.80,352.46 315.30,352.45 315.80,352.45 316.30,352.45 316.80,352.44 317.30,352.44 317.80,352.43 318.30,352.43 318.80,352.43 319.30,352.42 319.80,352.42 320.30,352.41 320.80,352.41 321.30,352.40 321.80,352.40 322.30,352.39 322.80,352.39 323.30,352.38 323.80,352.38 324.30,352.37 324.80,352.36 325.30,352.36 325.80,352.35 326.30,352.34 326.80,352.34 327.30,352.33 327.80,352.32 328.30,352.31 328.80,352.31 329.30,352.30 329.80,352.29 330.30,352.28 330.80,352.27 331.30,352.26 331.80,352.25 332.30,352.24 332.80,352.23 333.30,352.22 333.80,352.20 334.30,352.19 334.80,352.18 335.30,352.17 335.80,352.15 336.30,352.14 336.80,352.13 337.30,352.11 337.80,352.10 338.30,352.08 338.80,352.06 339.30,352.05 339.80,352.03 340.30,352.01 340.80,351.99 341.30,351.97 341.80,351.95 342.30,351.93 342.80,351.91 343.30,351.89 343.80,351.87 344.30,351.84 344.80,351.82 345.30,351.79 345.80,351.77 346.30,351.74 346.80,351.71 347.30,351.68 347.80,351.65 348.30,351.62 348.80,351.59 349.30,351.55 349.80,351.52 350.30,351.48 350.80,351.45 351.30,351.41 351.80,351.37 352.30,351.33 352.80,351.29 353.30,351.24 353.80,351.20 354.30,351.15 354.80,351.10 355.30,351.05 355.80,351.00 356.30,350.95 356.80,350.89 357.30,350.83 357.80,350.77 358.30,350.71 358.80,350.65 359.30,350.58 359.80,350.52 360.30,350.45 360.80,350.37 361.30,350.30 361.80,350.22 362.30,350.14 362.80,350.06 363.30,349.97 363.80,349.88 364.30,349.79 364.80,349.70 365.30,349.60 365.80,349.50 366.30,349.40 366.80,349.29 367.30,349.18 367.80,349.06 368.30,348.94 368.80,348.82 369.30,348.69 369.80,348.56 370.30,348.43 370.80,348.29 371.30,348.15 371.80,348.00 372.30,347.84 372.80,347.68 373.30,347.52 373.80,347.35 374.30,347.18 374.80,347.00 375.30,346.81 375.80,346.62 376.30,346.42 376.80,346.22 377.30,346.01 377.80,345.79 378.30,345.57 378.80,345.33 379.30,345.10 379.80,344.85 380.30,344.60 380.80,344.34 381.30,344.07 381.80,343.79 382.30,343.50 382.80,343.21 383.30,342.91 383.80,342.59 384.30,342.27 384.80,341.94 385.30,341.60 385.80,341.25 386.30,340.89 386.80,340.52 387.30,340.13 387.80,339.74 388.30,339.34 388.80,338.92 389.30,338.50 389.80,338.06 390.30,337.61 390.80,337.14 391.30,336.67 391.80,336.18 392.30,335.68 392.80,335.17 393.30,334.64 393.80,334.10 394.30,333.55 394.80,332.98 395.30,332.40 395.80,331.80 396.30,331.19 396.80,330.56 397.30,329.92 397.80,329.27 398.30,328.60 398.80,327.92 399.30,327.22 399.80,326.50 400.30,325.77 400.80,325.03 401.30,324.27 401.80,323.49 402.30,322.70 402.80,321.89 403.30,321.07 403.80,320.23 404.30,319.38 404.80,318.52 405.30,317.63 405.80,316.74 406.30,315.83 406.80,314.90 407.30,313.96 407.80,313.01 408.30,312.04 408.80,311.06 409.30,310.07 409.80,309.06 410.30,308.04 410.80,307.01 411.30,305.97 411.80,304.92 412.30,303.85 412.80,302.78 413.30,301.69 413.80,300.60 414.30,299.50 414.80,298.39 415.30,297.27 415.80,296.15 416.30,295.02 416.80,293.88 417.30,292.74 417.80,291.59 418.30,290.44 418.80,289.29 419.30,288.14 419.80,286.98 420.30,285.82 420.80,284.66 421.30,283.50 421.80,282.35 422.30,281.19 422.80,280.04 423.30,278.89 423.80,277.74 424.30,276.60 424.80,275.46 425.30,274.33 425.80,273.20 426.30,272.08 426.80,270.97 427.30,269.87 427.80,268.77 428.30,267.69 428.80,266.61 429.30,265.55 429.80,264.49 430.30,263.45 430.80,262.41 431.30,261.39 431.80,260.38 432.30,259.39 432.80,258.40 433.30,257.44 433.80,256.48 434.30,255.54 434.80,254.61 435.30,253.69 435.80,252.79 436.30,251.91 436.80,251.04 437.30,250.19 437.80,249.35 438.30,248.52 438.80,247.71 439.30,246.92 439.80,246.14 440.30,245.37 440.80,244.63 441.30,243.89 441.80,243.18 442.30,242.47 442.80,241.79 443.30,241.11 443.80,240.46 444.30,239.81 444.80,239.19 445.30,238.57 445.80,237.97 446.30,237.39 446.80,236.82 447.30,236.26 447.80,235.72 448.30,235.19 448.80,234.67 449.30,234.17 449.80,233.68 450.30,233.20 450.80,232.73 451.30,232.28 451.80,231.84 452.30,231.41 452.80,230.99 453.30,230.59 453.80,230.19 454.30,229.81 454.80,229.44 455.30,229.07 455.80,228.72 456.30,228.38 456.80,228.04 457.30,227.72 457.80,227.41 458.30,227.10 458.80,226.81 459.30,226.52 459.80,226.24 460.30,225.97 460.80,225.71 461.30,225.45 461.80,225.20 462.30,224.96 462.80,224.73 463.30,224.51 463.80,224.29 464.30,224.07 464.80,223.87 465.30,223.67 465.80,223.48 466.30,223.29 466.80,223.11 467.30,222.93 467.80,222.76 468.30,222.60 468.80,222.44 469.30,222.28 469.80,222.13 470.30,221.99 470.80,221.85 471.30,221.71 471.80,221.58 472.30,221.45 472.80,221.33 473.30,221.21 473.80,221.10 474.30,220.98 474.80,220.87 475.30,220.77 475.80,220.67 476.30,220.57 476.80,220.48 477.30,220.38 477.80,220.29 478.30,220.21 478.80,220.13 479.30,220.04 479.80,219.97 480.30,219.89 480.80,219.82 481.30,219.75 481.80,219.68 482.30,219.61 482.80,219.55 483.30,219.49 483.80,219.43 484.30,219.37 484.80,219.32 485.30,219.26 485.80,219.21 486.30,219.16 486.80,219.11 487.30,219.06 487.80,219.02 488.30,218.97 488.80,218.93 489.30,218.89 489.80,218.85 490.30,218.81 490.80,218.77 491.30,218.74 491.80,218.70 492.30,218.67 492.80,218.64 493.30,218.61 493.80,218.58 494.30,218.55 494.80,218.52 495.30,218.49 495.80,218.46 496.30,218.44 496.80,218.41 497.30,218.39 497.80,218.37 498.30,218.34 498.80,218.32 499.30,218.30 499.80,218.28 500.30,218.26 500.80,218.24 501.30,218.22 501.80,218.21 502.30,218.19 502.80,218.17 503.30,218.16 503.80,218.14 504.30,218.13 504.80,218.11 505.30,218.10 505.80,218.09 506.30,218.07 506.80,218.06 507.30,218.05 507.80,218.04 508.30,218.02 508.80,218.01 509.30,218.00 509.80,217.99 510.30,217.98 510.80,217.97 511.30,217.96 511.80,217.96 512.30,217.95 512.80,217.94 513.30,217.93 513.80,217.92 514.30,217.91 514.80,217.91 515.30,217.90 515.80,217.89 516.30,217.89 516.80,217.88 517.30,217.87 517.80,217.87 518.30,217.86" fill="none" stroke="#000" stroke-width="1.20"/>
<circle cx="384.30" cy="217.70" r="3.30"/>
<circle cx="388.30" cy="217.70" r="3.30"/>
<circle cx="398.45" cy="217.70" r="3.30"/>
<circle cx="407.10" cy="217.70" r="3.30"/>
<circle cx="414.25" cy="217.70" r="3.30"/>
<circle cx="427.80" cy="217.70" r="3.30"/>
<circle cx="432.30" cy="217.70" r="3.30"/>
<circle cx="436.80" cy="217.70" r="3.30"/>
<circle cx="441.30" cy="217.70" r="3.30"/>
<circle cx="445.80" cy="217.70" r="3.30"/>
<circle cx="450.30" cy="217.70" r="3.30"/>
<circle cx="454.80" cy="217.70" r="3.30"/>
<circle cx="459.30" cy="217.70" r="3.30"/>
<circle cx="463.80" cy="217.70" r="3.30"/>
<circle cx="470.75" cy="217.70" r="3.30"/>
<circle cx="478.80" cy="217.70" r="3.30"/>
<circle cx="482.88" cy="217.70" r="3.30"/>
<circle cx="486.95" cy="217.70" r="3.30"/>
<circle cx="491.02" cy="217.70" r="3.30"/>
<circle cx="495.10" cy="217.70" r="3.30"/>
<circle cx="314.90" cy="352.55" r="3.30"/>
<circle cx="319.50" cy="352.55" r="3.30"/>
<circle cx="324.10" cy="352.55" r="3.30"/>
<circle cx="328.70" cy="352.55" r="3.30"/>
<circle cx="333.30" cy="352.55" r="3.30"/>
<circle cx="337.90" cy="352.55" r="3.30"/>
<circle cx="342.50" cy="352.55" r="3.30"/>
<circle cx="347.10" cy="352.55" r="3.30"/>
<circle cx="351.70" cy="352.55" r="3.30"/>
<circle cx="356.30" cy="352.55" r="3.30"/>
<circle cx="360.90" cy="352.55" r="3.30"/>
<circle cx="365.50" cy="352.55" r="3.30"/>
<circle cx="370.10" cy="352.55" r="3.30"/>
<circle cx="374.70" cy="352.55" r="3.30"/>
<circle cx="379.30" cy="352.55" r="3.30"/>
<circle cx="383.90" cy="352.55" r="3.30"/>
<circle cx="388.50" cy="352.55" r="3.30"/>
<circle cx="393.10" cy="352.55" r="3.30"/>
<circle cx="397.70" cy="352.55" r="3.30"/>
<circle cx="405.30" cy="352.55" r="3.30"/>
<circle cx="409.65" cy="352.55" r="3.30"/>
<circle cx="414.00" cy="352.55" r="3.30"/>
<circle cx="418.35" cy="352.55" r="3.30"/>
<circle cx="422.70" cy="352.55" r="3.30"/>
<circle cx="429.75" cy="352.55" r="3.30"/>
<circle cx="437.00" cy="352.55" r="3.30"/>
<rect x="300.80" y="196.80" width="217.60" height="168.85" fill="none" stroke="#000" stroke-width="1.40"/>
<line x1="300.80" y1="352.55" x2="305.80" y2="352.55" stroke="#000" stroke-width="1.40"/>
<text transform="translate(294.20,357.55) scale(0.965,1)" font-size="14.00" text-anchor="end">0.0</text>
<line x1="300.80" y1="325.58" x2="305.80" y2="325.58" stroke="#000" stroke-width="1.40"/>
<text transform="translate(294.20,330.58) scale(0.965,1)" font-size="14.00" text-anchor="end">0.2</text>
<line x1="300.80" y1="298.61" x2="305.80" y2="298.61" stroke="#000" stroke-width="1.40"/>
<text transform="translate(294.20,303.61) scale(0.965,1)" font-size="14.00" text-anchor="end">0.4</text>
<line x1="300.80" y1="271.64" x2="305.80" y2="271.64" stroke="#000" stroke-width="1.40"/>
<text transform="translate(294.20,276.64) scale(0.965,1)" font-size="14.00" text-anchor="end">0.6</text>
<line x1="300.80" y1="244.67" x2="305.80" y2="244.67" stroke="#000" stroke-width="1.40"/>
<text transform="translate(294.20,249.67) scale(0.965,1)" font-size="14.00" text-anchor="end">0.8</text>
<line x1="300.80" y1="217.70" x2="305.80" y2="217.70" stroke="#000" stroke-width="1.40"/>
<text transform="translate(294.20,222.70) scale(0.965,1)" font-size="14.00" text-anchor="end">1.0</text>
<line x1="335.00" y1="365.65" x2="335.00" y2="360.65" stroke="#000" stroke-width="1.40"/>
<text transform="translate(335.00,384.80) scale(0.965,1)" font-size="14.00" text-anchor="middle">0.3</text>
<line x1="373.30" y1="365.65" x2="373.30" y2="360.65" stroke="#000" stroke-width="1.40"/>
<text transform="translate(373.30,384.80) scale(0.965,1)" font-size="14.00" text-anchor="middle">0.4</text>
<line x1="411.60" y1="365.65" x2="411.60" y2="360.65" stroke="#000" stroke-width="1.40"/>
<text transform="translate(411.60,384.80) scale(0.965,1)" font-size="14.00" text-anchor="middle">0.5</text>
<line x1="449.90" y1="365.65" x2="449.90" y2="360.65" stroke="#000" stroke-width="1.40"/>
<text transform="translate(449.90,384.80) scale(0.965,1)" font-size="14.00" text-anchor="middle">0.6</text>
<line x1="488.20" y1="365.65" x2="488.20" y2="360.65" stroke="#000" stroke-width="1.40"/>
<text transform="translate(488.20,384.80) scale(0.965,1)" font-size="14.00" text-anchor="middle">0.7</text>
<text transform="translate(305.40,209.70) scale(0.971,1)" font-size="14.00" font-style="italic">Q. eduardii</text>
<clipPath id="c20"><rect x="47.00" y="391.90" width="217.60" height="168.85"/></clipPath>
<polyline clip-path="url(#c20)" points="47.00,547.65 47.50,547.65 48.00,547.65 48.50,547.65 49.00,547.65 49.50,547.65 50.00,547.65 50.50,547.65 51.00,547.65 51.50,547.65 52.00,547.65 52.50,547.65 53.00,547.65 53.50,547.65 54.00,547.65 54.50,547.65 55.00,547.65 55.50,547.65 56.00,547.65 56.50,547.65 57.00,547.65 57.50,547.65 58.00,547.65 58.50,547.65 59.00,547.65 59.50,547.65 60.00,547.65 60.50,547.65 61.00,547.65 61.50,547.65 62.00,547.65 62.50,547.65 63.00,547.65 63.50,547.65 64.00,547.65 64.50,547.65 65.00,547.65 65.50,547.65 66.00,547.65 66.50,547.65 67.00,547.65 67.50,547.65 68.00,547.65 68.50,547.65 69.00,547.65 69.50,547.65 70.00,547.65 70.50,547.65 71.00,547.65 71.50,547.65 72.00,547.65 72.50,547.65 73.00,547.65 73.50,547.65 74.00,547.65 74.50,547.65 75.00,547.65 75.50,547.65 76.00,547.65 76.50,547.65 77.00,547.65 77.50,547.65 78.00,547.65 78.50,547.65 79.00,547.65 79.50,547.65 80.00,547.65 80.50,547.65 81.00,547.65 81.50,547.65 82.00,547.65 82.50,547.65 83.00,547.65 83.50,547.65 84.00,547.65 84.50,547.65 85.00,547.65 85.50,547.65 86.00,547.65 86.50,547.65 87.00,547.65 87.50,547.65 88.00,547.65 88.50,547.65 89.00,547.65 89.50,547.65 90.00,547.65 90.50,547.65 91.00,547.65 91.50,547.65 92.00,547.65 92.50,547.65 93.00,547.65 93.50,547.65 94.00,547.65 94.50,547.65 95.00,547.65 95.50,547.65 96.00,547.65 96.50,547.65 97.00,547.65 97.50,547.65 98.00,547.65 98.50,547.65 99.00,547.65 99.50,547.65 100.00,547.65 100.50,547.65 101.00,547.65 101.50,547.65 102.00,547.65 102.50,547.65 103.00,547.65 103.50,547.65 104.00,547.65 104.50,547.65 105.00,547.65 105.50,547.64 106.00,547.64 106.50,547.64 107.00,547.64 107.50,547.64 108.00,547.64 108.50,547.64 109.00,547.64 109.50,547.64 110.00,547.64 110.50,547.64 111.00,547.64 111.50,547.63 112.00,547.63 112.50,547.63 113.00,547.63 113.50,547.63 114.00,547.63 114.50,547.62 115.00,547.62 115.50,547.62 116.00,547.62 116.50,547.61 117.00,547.61 117.50,547.61 118.00,547.60 118.50,547.60 119.00,547.59 119.50,547.59 120.00,547.58 120.50,547.58 121.00,547.57 121.50,547.56 122.00,547.56 122.50,547.55 123.00,547.54 123.50,547.53 124.00,547.52 124.50,547.51 125.00,547.49 125.50,547.48 126.00,547.46 126.50,547.45 127.00,547.43 127.50,547.41 128.00,547.39 128.50,547.36 129.00,547.34 129.50,547.31 130.00,547.28 130.50,547.25 131.00,547.21 131.50,547.17 132.00,547.13 132.50,547.08 133.00,547.03 133.50,546.98 134.00,546.92 134.50,546.85 135.00,546.78 135.50,546.70 136.00,546.62 136.50,546.52 137.00,546.42 137.50,546.31 138.00,546.19 138.50,546.06 139.00,545.92 139.50,545.77 140.00,545.60 140.50,545.42 141.00,545.22 141.50,545.01 142.00,544.78 142.50,544.53 143.00,544.25 143.50,543.95 144.00,543.63 144.50,543.28 145.00,542.90 145.50,542.49 146.00,542.04 146.50,541.56 147.00,541.04 147.50,540.48 148.00,539.87 148.50,539.21 149.00,538.50 149.50,537.74 150.00,536.92 150.50,536.04 151.00,535.09 151.50,534.07 152.00,532.98 152.50,531.82 153.00,530.57 153.50,529.25 154.00,527.83 154.50,526.33 155.00,524.74 155.50,523.05 156.00,521.27 156.50,519.39 157.00,517.42 157.50,515.35 158.00,513.18 158.50,510.92 159.00,508.58 159.50,506.14 160.00,503.62 160.50,501.03 161.00,498.37 161.50,495.64 162.00,492.86 162.50,490.04 163.00,487.18 163.50,484.29 164.00,481.39 164.50,478.48 165.00,475.58 165.50,472.70 166.00,469.85 166.50,467.03 167.00,464.26 167.50,461.54 168.00,458.90 168.50,456.32 169.00,453.82 169.50,451.40 170.00,449.07 170.50,446.83 171.00,444.68 171.50,442.63 172.00,440.68 172.50,438.82 173.00,437.06 173.50,435.39 174.00,433.81 174.50,432.33 175.00,430.93 175.50,429.62 176.00,428.39 176.50,427.24 177.00,426.17 177.50,425.17 178.00,424.23 178.50,423.36 179.00,422.55 179.50,421.80 180.00,421.10 180.50,420.46 181.00,419.86 181.50,419.30 182.00,418.79 182.50,418.31 183.00,417.88 183.50,417.47 184.00,417.10 184.50,416.75 185.00,416.44 185.50,416.14 186.00,415.87 186.50,415.62 187.00,415.40 187.50,415.18 188.00,414.99 188.50,414.81 189.00,414.65 189.50,414.50 190.00,414.36 190.50,414.23 191.00,414.11 191.50,414.01 192.00,413.91 192.50,413.82 193.00,413.73 193.50,413.66 194.00,413.59 194.50,413.52 195.00,413.46 195.50,413.41 196.00,413.36 196.50,413.31 197.00,413.27 197.50,413.23 198.00,413.20 198.50,413.16 199.00,413.13 199.50,413.11 200.00,413.08 200.50,413.06 201.00,413.04 201.50,413.02 202.00,413.00 202.50,412.98 203.00,412.97 203.50,412.95 204.00,412.94 204.50,412.93 205.00,412.92 205.50,412.91 206.00,412.90 206.50,412.89 207.00,412.88 207.50,412.88 208.00,412.87 208.50,412.86 209.00,412.86 209.50,412.85 210.00,412.85 210.50,412.85 211.00,412.84 211.50,412.84 212.00,412.84 212.50,412.83 213.00,412.83 213.50,412.83 214.00,412.83 214.50,412.82 215.00,412.82 215.50,412.82 216.00,412.82 216.50,412.82 217.00,412.82 217.50,412.81 218.00,412.81 218.50,412.81 219.00,412.81 219.50,412.81 220.00,412.81 220.50,412.81 221.00,412.81 221.50,412.81 222.00,412.81 222.50,412.81 223.00,412.81 223.50,412.80 224.00,412.80 224.50,412.80 225.00,412.80 225.50,412.80 226.00,412.80 226.50,412.80 227.00,412.80 227.50,412.80 228.00,412.80 228.50,412.80 229.00,412.80 229.50,412.80 230.00,412.80 230.50,412.80 231.00,412.80 231.50,412.80 232.00,412.80 232.50,412.80 233.00,412.80 233.50,412.80 234.00,412.80 234.50,412.80 235.00,412.80 235.50,412.80 236.00,412.80 236.50,412.80 237.00,412.80 237.50,412.80 238.00,412.80 238.50,412.80 239.00,412.80 239.50,412.80 240.00,412.80 240.50,412.80 241.00,412.80 241.50,412.80 242.00,412.80 242.50,412.80 243.00,412.80 243.50,412.80 244.00,412.80 244.50,412.80 245.00,412.80 245.50,412.80 246.00,412.80 246.50,412.80 247.00,412.80 247.50,412.80 248.00,412.80 248.50,412.80 249.00,412.80 249.50,412.80 250.00,412.80 250.50,412.80 251.00,412.80 251.50,412.80 252.00,412.80 252.50,412.80 253.00,412.80 253.50,412.80 254.00,412.80 254.50,412.80 255.00,412.80 255.50,412.80 256.00,412.80 256.50,412.80 257.00,412.80 257.50,412.80 258.00,412.80 258.50,412.80 259.00,412.80 259.50,412.80 260.00,412.80 260.50,412.80 261.00,412.80 261.50,412.80 262.00,412.80 262.50,412.80 263.00,412.80 263.50,412.80 264.00,412.80 264.50,412.80" fill="none" stroke="#000" stroke-width="1.20"/>
<circle cx="154.30" cy="412.80" r="3.30"/>
<circle cx="159.01" cy="412.80" r="3.30"/>
<circle cx="163.71" cy="412.80" r="3.30"/>
<circle cx="168.42" cy="412.80" r="3.30"/>
<circle cx="173.13" cy="412.80" r="3.30"/>
<circle cx="177.84" cy="412.80" r="3.30"/>
<circle cx="182.54" cy="412.80" r="3.30"/>
<circle cx="187.25" cy="412.80" r="3.30"/>
<circle cx="191.96" cy="412.80" r="3.30"/>
<circle cx="196.66" cy="412.80" r="3.30"/>
<circle cx="201.37" cy="412.80" r="3.30"/>
<circle cx="206.08" cy="412.80" r="3.30"/>
<circle cx="210.79" cy="412.80" r="3.30"/>
<circle cx="215.49" cy="412.80" r="3.30"/>
<circle cx="220.20" cy="412.80" r="3.30"/>
<circle cx="231.70" cy="412.80" r="3.30"/>
<circle cx="236.20" cy="412.80" r="3.30"/>
<circle cx="240.70" cy="412.80" r="3.30"/>
<circle cx="70.10" cy="547.65" r="3.30"/>
<circle cx="73.98" cy="547.65" r="3.30"/>
<circle cx="77.86" cy="547.65" r="3.30"/>
<circle cx="81.74" cy="547.65" r="3.30"/>
<circle cx="85.62" cy="547.65" r="3.30"/>
<circle cx="89.50" cy="547.65" r="3.30"/>
<circle cx="97.50" cy="547.65" r="3.30"/>
<circle cx="102.17" cy="547.65" r="3.30"/>
<circle cx="106.84" cy="547.65" r="3.30"/>
<circle cx="111.51" cy="547.65" r="3.30"/>
<circle cx="116.17" cy="547.65" r="3.30"/>
<circle cx="120.84" cy="547.65" r="3.30"/>
<circle cx="125.51" cy="547.65" r="3.30"/>
<circle cx="130.18" cy="547.65" r="3.30"/>
<circle cx="134.85" cy="547.65" r="3.30"/>
<circle cx="139.52" cy="547.65" r="3.30"/>
<circle cx="144.19" cy="547.65" r="3.30"/>
<circle cx="148.86" cy="547.65" r="3.30"/>
<circle cx="153.52" cy="547.65" r="3.30"/>
<circle cx="158.19" cy="547.65" r="3.30"/>
<circle cx="162.86" cy="547.65" r="3.30"/>
<circle cx="167.53" cy="547.65" r="3.30"/>
<circle cx="172.20" cy="547.65" r="3.30"/>
<rect x="47.00" y="391.90" width="217.60" height="168.85" fill="none" stroke="#000" stroke-width="1.40"/>
<line x1="47.00" y1="547.65" x2="52.00" y2="547.65" stroke="#000" stroke-width="1.40"/>
<text transform="translate(40.40,552.65) scale(0.965,1)" font-size="14.00" text-anchor="end">0.0</text>
<line x1="47.00" y1="520.68" x2="52.00" y2="520.68" stroke="#000" stroke-width="1.40"/>
<text transform="translate(40.40,525.68) scale(0.965,1)" font-size="14.00" text-anchor="end">0.2</text>
<line x1="47.00" y1="493.71" x2="52.00" y2="493.71" stroke="#000" stroke-width="1.40"/>
<text transform="translate(40.40,498.71) scale(0.965,1)" font-size="14.00" text-anchor="end">0.4</text>
<line x1="47.00" y1="466.74" x2="52.00" y2="466.74" stroke="#000" stroke-width="1.40"/>
<text transform="translate(40.40,471.74) scale(0.965,1)" font-size="14.00" text-anchor="end">0.6</text>
<line x1="47.00" y1="439.77" x2="52.00" y2="439.77" stroke="#000" stroke-width="1.40"/>
<text transform="translate(40.40,444.77) scale(0.965,1)" font-size="14.00" text-anchor="end">0.8</text>
<line x1="47.00" y1="412.80" x2="52.00" y2="412.80" stroke="#000" stroke-width="1.40"/>
<text transform="translate(40.40,417.80) scale(0.965,1)" font-size="14.00" text-anchor="end">1.0</text>
<line x1="65.20" y1="560.75" x2="65.20" y2="555.75" stroke="#000" stroke-width="1.40"/>
<text transform="translate(65.20,579.90) scale(0.965,1)" font-size="14.00" text-anchor="middle">0.2</text>
<line x1="101.42" y1="560.75" x2="101.42" y2="555.75" stroke="#000" stroke-width="1.40"/>
<text transform="translate(101.42,579.90) scale(0.965,1)" font-size="14.00" text-anchor="middle">0.3</text>
<line x1="137.64" y1="560.75" x2="137.64" y2="555.75" stroke="#000" stroke-width="1.40"/>
<text transform="translate(137.64,579.90) scale(0.965,1)" font-size="14.00" text-anchor="middle">0.4</text>
<line x1="173.86" y1="560.75" x2="173.86" y2="555.75" stroke="#000" stroke-width="1.40"/>
<text transform="translate(173.86,579.90) scale(0.965,1)" font-size="14.00" text-anchor="middle">0.5</text>
<line x1="210.08" y1="560.75" x2="210.08" y2="555.75" stroke="#000" stroke-width="1.40"/>
<text transform="translate(210.08,579.90) scale(0.965,1)" font-size="14.00" text-anchor="middle">0.6</text>
<line x1="246.30" y1="560.75" x2="246.30" y2="555.75" stroke="#000" stroke-width="1.40"/>
<text transform="translate(246.30,579.90) scale(0.965,1)" font-size="14.00" text-anchor="middle">0.7</text>
<text transform="translate(51.60,404.80) scale(0.971,1)" font-size="14.00" font-style="italic">Q. jonesii</text>
<text transform="translate(10.80,475.93) rotate(-90) scale(0.971,1)" font-size="14.00" text-anchor="middle">Germination probability</text>
<clipPath id="c21"><rect x="300.80" y="391.90" width="217.60" height="168.85"/></clipPath>
<polyline clip-path="url(#c21)" points="300.80,547.65 301.30,547.65 301.80,547.65 302.30,547.65 302.80,547.65 303.30,547.65 303.80,547.65 304.30,547.65 304.80,547.65 305.30,547.65 305.80,547.65 306.30,547.65 306.80,547.65 307.30,547.65 307.80,547.65 308.30,547.65 308.80,547.65 309.30,547.64 309.80,547.64 310.30,547.64 310.80,547.64 311.30,547.64 311.80,547.64 312.30,547.64 312.80,547.64 313.30,547.64 313.80,547.64 314.30,547.64 314.80,547.64 315.30,547.64 315.80,547.64 316.30,547.64 316.80,547.64 317.30,547.64 317.80,547.64 318.30,547.64 318.80,547.64 319.30,547.63 319.80,547.63 320.30,547.63 320.80,547.63 321.30,547.63 321.80,547.63 322.30,547.63 322.80,547.63 323.30,547.63 323.80,547.62 324.30,547.62 324.80,547.62 325.30,547.62 325.80,547.62 326.30,547.62 326.80,547.61 327.30,547.61 327.80,547.61 328.30,547.61 328.80,547.60 329.30,547.60 329.80,547.60 330.30,547.60 330.80,547.59 331.30,547.59 331.80,547.59 332.30,547.58 332.80,547.58 333.30,547.58 333.80,547.57 334.30,547.57 334.80,547.56 335.30,547.56 335.80,547.55 336.30,547.55 336.80,547.54 337.30,547.53 337.80,547.53 338.30,547.52 338.80,547.51 339.30,547.50 339.80,547.49 340.30,547.49 340.80,547.48 341.30,547.47 341.80,547.46 342.30,547.44 342.80,547.43 343.30,547.42 343.80,547.41 344.30,547.39 344.80,547.38 345.30,547.36 345.80,547.35 346.30,547.33 346.80,547.31 347.30,547.29 347.80,547.27 348.30,547.25 348.80,547.22 349.30,547.20 349.80,547.17 350.30,547.15 350.80,547.12 351.30,547.09 351.80,547.05 352.30,547.02 352.80,546.98 353.30,546.94 353.80,546.90 354.30,546.86 354.80,546.82 355.30,546.77 355.80,546.72 356.30,546.66 356.80,546.61 357.30,546.55 357.80,546.48 358.30,546.42 358.80,546.35 359.30,546.27 359.80,546.19 360.30,546.11 360.80,546.02 361.30,545.93 361.80,545.83 362.30,545.73 362.80,545.62 363.30,545.50 363.80,545.38 364.30,545.25 364.80,545.12 365.30,544.97 365.80,544.82 366.30,544.66 366.80,544.49 367.30,544.31 367.80,544.13 368.30,543.93 368.80,543.72 369.30,543.50 369.80,543.27 370.30,543.02 370.80,542.76 371.30,542.49 371.80,542.21 372.30,541.91 372.80,541.59 373.30,541.25 373.80,540.90 374.30,540.53 374.80,540.15 375.30,539.74 375.80,539.31 376.30,538.86 376.80,538.39 377.30,537.89 377.80,537.37 378.30,536.82 378.80,536.25 379.30,535.65 379.80,535.02 380.30,534.36 380.80,533.67 381.30,532.95 381.80,532.20 382.30,531.42 382.80,530.60 383.30,529.74 383.80,528.85 384.30,527.92 384.80,526.96 385.30,525.96 385.80,524.91 386.30,523.83 386.80,522.71 387.30,521.55 387.80,520.34 388.30,519.10 388.80,517.82 389.30,516.49 389.80,515.12 390.30,513.72 390.80,512.27 391.30,510.78 391.80,509.26 392.30,507.70 392.80,506.10 393.30,504.47 393.80,502.80 394.30,501.11 394.80,499.38 395.30,497.63 395.80,495.85 396.30,494.04 396.80,492.22 397.30,490.37 397.80,488.52 398.30,486.64 398.80,484.76 399.30,482.88 399.80,480.98 400.30,479.09 400.80,477.20 401.30,475.31 401.80,473.43 402.30,471.56 402.80,469.71 403.30,467.87 403.80,466.05 404.30,464.25 404.80,462.47 405.30,460.72 405.80,459.00 406.30,457.31 406.80,455.65 407.30,454.03 407.80,452.44 408.30,450.88 408.80,449.37 409.30,447.89 409.80,446.45 410.30,445.05 410.80,443.69 411.30,442.37 411.80,441.10 412.30,439.86 412.80,438.67 413.30,437.51 413.80,436.40 414.30,435.33 414.80,434.29 415.30,433.30 415.80,432.34 416.30,431.42 416.80,430.53 417.30,429.69 417.80,428.87 418.30,428.10 418.80,427.35 419.30,426.64 419.80,425.95 420.30,425.30 420.80,424.68 421.30,424.09 421.80,423.52 422.30,422.98 422.80,422.46 423.30,421.97 423.80,421.50 424.30,421.05 424.80,420.63 425.30,420.22 425.80,419.84 426.30,419.47 426.80,419.13 427.30,418.80 427.80,418.48 428.30,418.19 428.80,417.90 429.30,417.63 429.80,417.38 430.30,417.14 430.80,416.91 431.30,416.69 431.80,416.48 432.30,416.29 432.80,416.10 433.30,415.92 433.80,415.76 434.30,415.60 434.80,415.45 435.30,415.31 435.80,415.17 436.30,415.05 436.80,414.92 437.30,414.81 437.80,414.70 438.30,414.60 438.80,414.50 439.30,414.41 439.80,414.32 440.30,414.24 440.80,414.16 441.30,414.09 441.80,414.02 442.30,413.95 442.80,413.89 443.30,413.83 443.80,413.78 444.30,413.72 444.80,413.67 445.30,413.63 445.80,413.58 446.30,413.54 446.80,413.50 447.30,413.46 447.80,413.42 448.30,413.39 448.80,413.36 449.30,413.33 449.80,413.30 450.30,413.27 450.80,413.25 451.30,413.22 451.80,413.20 452.30,413.18 452.80,413.16 453.30,413.14 453.80,413.12 454.30,413.10 454.80,413.09 455.30,413.07 455.80,413.05 456.30,413.04 456.80,413.03 457.30,413.02 457.80,413.00 458.30,412.99 458.80,412.98 459.30,412.97 459.80,412.96 460.30,412.95 460.80,412.95 461.30,412.94 461.80,412.93 462.30,412.92 462.80,412.92 463.30,412.91 463.80,412.90 464.30,412.90 464.80,412.89 465.30,412.89 465.80,412.88 466.30,412.88 466.80,412.87 467.30,412.87 467.80,412.87 468.30,412.86 468.80,412.86 469.30,412.86 469.80,412.85 470.30,412.85 470.80,412.85 471.30,412.84 471.80,412.84 472.30,412.84 472.80,412.84 473.30,412.84 473.80,412.83 474.30,412.83 474.80,412.83 475.30,412.83 475.80,412.83 476.30,412.83 476.80,412.82 477.30,412.82 477.80,412.82 478.30,412.82 478.80,412.82 479.30,412.82 479.80,412.82 480.30,412.82 480.80,412.82 481.30,412.81 481.80,412.81 482.30,412.81 482.80,412.81 483.30,412.81 483.80,412.81 484.30,412.81 484.80,412.81 485.30,412.81 485.80,412.81 486.30,412.81 486.80,412.81 487.30,412.81 487.80,412.81 488.30,412.81 488.80,412.81 489.30,412.81 489.80,412.81 490.30,412.81 490.80,412.81 491.30,412.80 491.80,412.80 492.30,412.80 492.80,412.80 493.30,412.80 493.80,412.80 494.30,412.80 494.80,412.80 495.30,412.80 495.80,412.80 496.30,412.80 496.80,412.80 497.30,412.80 497.80,412.80 498.30,412.80 498.80,412.80 499.30,412.80 499.80,412.80 500.30,412.80 500.80,412.80 501.30,412.80 501.80,412.80 502.30,412.80 502.80,412.80 503.30,412.80 503.80,412.80 504.30,412.80 504.80,412.80 505.30,412.80 505.80,412.80 506.30,412.80 506.80,412.80 507.30,412.80 507.80,412.80 508.30,412.80 508.80,412.80 509.30,412.80 509.80,412.80 510.30,412.80 510.80,412.80 511.30,412.80 511.80,412.80 512.30,412.80 512.80,412.80 513.30,412.80 513.80,412.80 514.30,412.80 514.80,412.80 515.30,412.80 515.80,412.80 516.30,412.80 516.80,412.80 517.30,412.80 517.80,412.80 518.30,412.80" fill="none" stroke="#000" stroke-width="1.20"/>
<circle cx="384.00" cy="412.80" r="3.30"/>
<circle cx="393.40" cy="412.80" r="3.30"/>
<circle cx="398.13" cy="412.80" r="3.30"/>
<circle cx="402.86" cy="412.80" r="3.30"/>
<circle cx="407.59" cy="412.80" r="3.30"/>
<circle cx="412.32" cy="412.80" r="3.30"/>
<circle cx="417.05" cy="412.80" r="3.30"/>
<circle cx="421.78" cy="412.80" r="3.30"/>
<circle cx="426.51" cy="412.80" r="3.30"/>
<circle cx="431.24" cy="412.80" r="3.30"/>
<circle cx="435.97" cy="412.80" r="3.30"/>
<circle cx="440.70" cy="412.80" r="3.30"/>
<circle cx="449.30" cy="412.80" r="3.30"/>
<circle cx="452.70" cy="412.80" r="3.30"/>
<circle cx="460.90" cy="412.80" r="3.30"/>
<circle cx="462.20" cy="412.80" r="3.30"/>
<circle cx="469.80" cy="412.80" r="3.30"/>
<circle cx="473.90" cy="412.80" r="3.30"/>
<circle cx="478.00" cy="412.80" r="3.30"/>
<circle cx="482.10" cy="412.80" r="3.30"/>
<circle cx="486.20" cy="412.80" r="3.30"/>
<circle cx="490.30" cy="412.80" r="3.30"/>
<circle cx="494.40" cy="412.80" r="3.30"/>
<circle cx="318.75" cy="547.65" r="3.30"/>
<circle cx="326.60" cy="547.65" r="3.30"/>
<circle cx="330.10" cy="547.65" r="3.30"/>
<circle cx="337.80" cy="547.65" r="3.30"/>
<circle cx="342.57" cy="547.65" r="3.30"/>
<circle cx="347.34" cy="547.65" r="3.30"/>
<circle cx="352.11" cy="547.65" r="3.30"/>
<circle cx="356.88" cy="547.65" r="3.30"/>
<circle cx="361.65" cy="547.65" r="3.30"/>
<circle cx="366.42" cy="547.65" r="3.30"/>
<circle cx="371.19" cy="547.65" r="3.30"/>
<circle cx="375.96" cy="547.65" r="3.30"/>
<circle cx="380.73" cy="547.65" r="3.30"/>
<circle cx="385.50" cy="547.65" r="3.30"/>
<circle cx="393.80" cy="547.65" r="3.30"/>
<circle cx="397.75" cy="547.65" r="3.30"/>
<circle cx="401.70" cy="547.65" r="3.30"/>
<circle cx="409.60" cy="547.65" r="3.30"/>
<circle cx="417.40" cy="547.65" r="3.30"/>
<rect x="300.80" y="391.90" width="217.60" height="168.85" fill="none" stroke="#000" stroke-width="1.40"/>
<line x1="300.80" y1="547.65" x2="305.80" y2="547.65" stroke="#000" stroke-width="1.40"/>
<text transform="translate(294.20,552.65) scale(0.965,1)" font-size="14.00" text-anchor="end">0.0</text>
<line x1="300.80" y1="520.68" x2="305.80" y2="520.68" stroke="#000" stroke-width="1.40"/>
<text transform="translate(294.20,525.68) scale(0.965,1)" font-size="14.00" text-anchor="end">0.2</text>
<line x1="300.80" y1="493.71" x2="305.80" y2="493.71" stroke="#000" stroke-width="1.40"/>
<text transform="translate(294.20,498.71) scale(0.965,1)" font-size="14.00" text-anchor="end">0.4</text>
<line x1="300.80" y1="466.74" x2="305.80" y2="466.74" stroke="#000" stroke-width="1.40"/>
<text transform="translate(294.20,471.74) scale(0.965,1)" font-size="14.00" text-anchor="end">0.6</text>
<line x1="300.80" y1="439.77" x2="305.80" y2="439.77" stroke="#000" stroke-width="1.40"/>
<text transform="translate(294.20,444.77) scale(0.965,1)" font-size="14.00" text-anchor="end">0.8</text>
<line x1="300.80" y1="412.80" x2="305.80" y2="412.80" stroke="#000" stroke-width="1.40"/>
<text transform="translate(294.20,417.80) scale(0.965,1)" font-size="14.00" text-anchor="end">1.0</text>
<line x1="331.10" y1="560.75" x2="331.10" y2="555.75" stroke="#000" stroke-width="1.40"/>
<text transform="translate(331.10,579.90) scale(0.965,1)" font-size="14.00" text-anchor="middle">0.4</text>
<line x1="388.73" y1="560.75" x2="388.73" y2="555.75" stroke="#000" stroke-width="1.40"/>
<text transform="translate(388.73,579.90) scale(0.965,1)" font-size="14.00" text-anchor="middle">0.6</text>
<line x1="446.37" y1="560.75" x2="446.37" y2="555.75" stroke="#000" stroke-width="1.40"/>
<text transform="translate(446.37,579.90) scale(0.965,1)" font-size="14.00" text-anchor="middle">0.8</text>
<line x1="504.00" y1="560.75" x2="504.00" y2="555.75" stroke="#000" stroke-width="1.40"/>
<text transform="translate(504.00,579.90) scale(0.965,1)" font-size="14.00" text-anchor="middle">1.0</text>
<text transform="translate(305.40,404.80) scale(0.971,1)" font-size="14.00" font-style="italic">Q. mexicana</text>
<clipPath id="c30"><rect x="47.00" y="587.00" width="217.60" height="168.85"/></clipPath>
<polyline clip-path="url(#c30)" points="47.00,742.69 47.50,742.69 48.00,742.69 48.50,742.68 49.00,742.68 49.50,742.68 50.00,742.68 50.50,742.67 51.00,742.67 51.50,742.67 52.00,742.67 52.50,742.66 53.00,742.66 53.50,742.66 54.00,742.65 54.50,742.65 55.00,742.64 55.50,742.64 56.00,742.64 56.50,742.63 57.00,742.63 57.50,742.62 58.00,742.62 58.50,742.61 59.00,742.61 59.50,742.60 60.00,742.60 60.50,742.59 61.00,742.59 61.50,742.58 62.00,742.57 62.50,742.57 63.00,742.56 63.50,742.55 64.00,742.54 64.50,742.54 65.00,742.53 65.50,742.52 66.00,742.51 66.50,742.50 67.00,742.49 67.50,742.48 68.00,742.47 68.50,742.46 69.00,742.45 69.50,742.44 70.00,742.43 70.50,742.42 71.00,742.40 71.50,742.39 72.00,742.38 72.50,742.36 73.00,742.35 73.50,742.33 74.00,742.32 74.50,742.30 75.00,742.28 75.50,742.27 76.00,742.25 76.50,742.23 77.00,742.21 77.50,742.19 78.00,742.17 78.50,742.15 79.00,742.12 79.50,742.10 80.00,742.08 80.50,742.05 81.00,742.02 81.50,742.00 82.00,741.97 82.50,741.94 83.00,741.91 83.50,741.88 84.00,741.84 84.50,741.81 85.00,741.77 85.50,741.74 86.00,741.70 86.50,741.66 87.00,741.62 87.50,741.58 88.00,741.53 88.50,741.49 89.00,741.44 89.50,741.39 90.00,741.34 90.50,741.29 91.00,741.23 91.50,741.18 92.00,741.12 92.50,741.06 93.00,740.99 93.50,740.93 94.00,740.86 94.50,740.79 95.00,740.71 95.50,740.64 96.00,740.56 96.50,740.48 97.00,740.39 97.50,740.31 98.00,740.22 98.50,740.12 99.00,740.02 99.50,739.92 100.00,739.82 100.50,739.71 101.00,739.60 101.50,739.48 102.00,739.36 102.50,739.24 103.00,739.11 103.50,738.97 104.00,738.83 104.50,738.69 105.00,738.54 105.50,738.39 106.00,738.23 106.50,738.06 107.00,737.89 107.50,737.71 108.00,737.53 108.50,737.34 109.00,737.14 109.50,736.94 110.00,736.73 110.50,736.51 111.00,736.29 111.50,736.05 112.00,735.81 112.50,735.56 113.00,735.31 113.50,735.04 114.00,734.77 114.50,734.48 115.00,734.19 115.50,733.89 116.00,733.57 116.50,733.25 117.00,732.92 117.50,732.57 118.00,732.22 118.50,731.85 119.00,731.47 119.50,731.08 120.00,730.68 120.50,730.27 121.00,729.84 121.50,729.40 122.00,728.94 122.50,728.48 123.00,727.99 123.50,727.50 124.00,726.99 124.50,726.46 125.00,725.92 125.50,725.37 126.00,724.80 126.50,724.21 127.00,723.61 127.50,722.99 128.00,722.36 128.50,721.70 129.00,721.03 129.50,720.35 130.00,719.65 130.50,718.93 131.00,718.19 131.50,717.43 132.00,716.66 132.50,715.87 133.00,715.06 133.50,714.23 134.00,713.39 134.50,712.52 135.00,711.64 135.50,710.74 136.00,709.83 136.50,708.89 137.00,707.94 137.50,706.97 138.00,705.99 138.50,704.99 139.00,703.97 139.50,702.93 140.00,701.88 140.50,700.81 141.00,699.73 141.50,698.64 142.00,697.53 142.50,696.40 143.00,695.26 143.50,694.11 144.00,692.95 144.50,691.78 145.00,690.60 145.50,689.40 146.00,688.20 146.50,686.99 147.00,685.77 147.50,684.54 148.00,683.31 148.50,682.07 149.00,680.83 149.50,679.58 150.00,678.33 150.50,677.08 151.00,675.83 151.50,674.57 152.00,673.32 152.50,672.07 153.00,670.82 153.50,669.57 154.00,668.33 154.50,667.09 155.00,665.86 155.50,664.64 156.00,663.42 156.50,662.21 157.00,661.01 157.50,659.82 158.00,658.63 158.50,657.46 159.00,656.30 159.50,655.16 160.00,654.02 160.50,652.90 161.00,651.79 161.50,650.70 162.00,649.62 162.50,648.56 163.00,647.51 163.50,646.48 164.00,645.46 164.50,644.46 165.00,643.48 165.50,642.52 166.00,641.57 166.50,640.64 167.00,639.72 167.50,638.83 168.00,637.95 168.50,637.09 169.00,636.25 169.50,635.43 170.00,634.62 170.50,633.84 171.00,633.07 171.50,632.31 172.00,631.58 172.50,630.86 173.00,630.16 173.50,629.48 174.00,628.81 174.50,628.17 175.00,627.53 175.50,626.92 176.00,626.32 176.50,625.74 177.00,625.17 177.50,624.62 178.00,624.08 178.50,623.56 179.00,623.05 179.50,622.56 180.00,622.08 180.50,621.61 181.00,621.16 181.50,620.73 182.00,620.30 182.50,619.89 183.00,619.49 183.50,619.10 184.00,618.72 184.50,618.36 185.00,618.01 185.50,617.67 186.00,617.33 186.50,617.01 187.00,616.70 187.50,616.40 188.00,616.11 188.50,615.83 189.00,615.55 189.50,615.29 190.00,615.04 190.50,614.79 191.00,614.55 191.50,614.32 192.00,614.09 192.50,613.88 193.00,613.67 193.50,613.47 194.00,613.27 194.50,613.08 195.00,612.90 195.50,612.73 196.00,612.56 196.50,612.39 197.00,612.23 197.50,612.08 198.00,611.93 198.50,611.79 199.00,611.65 199.50,611.52 200.00,611.39 200.50,611.27 201.00,611.15 201.50,611.03 202.00,610.92 202.50,610.81 203.00,610.71 203.50,610.61 204.00,610.51 204.50,610.42 205.00,610.33 205.50,610.24 206.00,610.15 206.50,610.07 207.00,610.00 207.50,609.92 208.00,609.85 208.50,609.78 209.00,609.71 209.50,609.64 210.00,609.58 210.50,609.52 211.00,609.46 211.50,609.41 212.00,609.35 212.50,609.30 213.00,609.25 213.50,609.20 214.00,609.15 214.50,609.11 215.00,609.06 215.50,609.02 216.00,608.98 216.50,608.94 217.00,608.90 217.50,608.87 218.00,608.83 218.50,608.80 219.00,608.77 219.50,608.74 220.00,608.70 220.50,608.68 221.00,608.65 221.50,608.62 222.00,608.59 222.50,608.57 223.00,608.54 223.50,608.52 224.00,608.50 224.50,608.48 225.00,608.46 225.50,608.44 226.00,608.42 226.50,608.40 227.00,608.38 227.50,608.36 228.00,608.35 228.50,608.33 229.00,608.31 229.50,608.30 230.00,608.28 230.50,608.27 231.00,608.26 231.50,608.24 232.00,608.23 232.50,608.22 233.00,608.21 233.50,608.20 234.00,608.19 234.50,608.17 235.00,608.16 235.50,608.16 236.00,608.15 236.50,608.14 237.00,608.13 237.50,608.12 238.00,608.11 238.50,608.10 239.00,608.10 239.50,608.09 240.00,608.08 240.50,608.08 241.00,608.07 241.50,608.06 242.00,608.06 242.50,608.05 243.00,608.05 243.50,608.04 244.00,608.04 244.50,608.03 245.00,608.03 245.50,608.02 246.00,608.02 246.50,608.01 247.00,608.01 247.50,608.00 248.00,608.00 248.50,608.00 249.00,607.99 249.50,607.99 250.00,607.99 250.50,607.98 251.00,607.98 251.50,607.98 252.00,607.97 252.50,607.97 253.00,607.97 253.50,607.97 254.00,607.96 254.50,607.96 255.00,607.96 255.50,607.96 256.00,607.96 256.50,607.95 257.00,607.95 257.50,607.95 258.00,607.95 258.50,607.95 259.00,607.94 259.50,607.94 260.00,607.94 260.50,607.94 261.00,607.94 261.50,607.94 262.00,607.94 262.50,607.93 263.00,607.93 263.50,607.93 264.00,607.93 264.50,607.93" fill="none" stroke="#000" stroke-width="1.20"/>
<circle cx="130.70" cy="607.90" r="3.30"/>
<circle cx="135.43" cy="607.90" r="3.30"/>
<circle cx="140.17" cy="607.90" r="3.30"/>
<circle cx="144.90" cy="607.90" r="3.30"/>
<circle cx="149.63" cy="607.90" r="3.30"/>
<circle cx="154.37" cy="607.90" r="3.30"/>
<circle cx="159.10" cy="607.90" r="3.30"/>
<circle cx="163.83" cy="607.90" r="3.30"/>
<circle cx="168.57" cy="607.90" r="3.30"/>
<circle cx="173.30" cy="607.90" r="3.30"/>
<circle cx="178.03" cy="607.90" r="3.30"/>
<circle cx="182.77" cy="607.90" r="3.30"/>
<circle cx="187.50" cy="607.90" r="3.30"/>
<circle cx="197.10" cy="607.90" r="3.30"/>
<circle cx="201.83" cy="607.90" r="3.30"/>
<circle cx="206.55" cy="607.90" r="3.30"/>
<circle cx="211.28" cy="607.90" r="3.30"/>
<circle cx="216.00" cy="607.90" r="3.30"/>
<circle cx="220.72" cy="607.90" r="3.30"/>
<circle cx="225.45" cy="607.90" r="3.30"/>
<circle cx="230.17" cy="607.90" r="3.30"/>
<circle cx="234.90" cy="607.90" r="3.30"/>
<circle cx="62.70" cy="742.75" r="3.30"/>
<circle cx="72.30" cy="742.75" r="3.30"/>
<circle cx="76.80" cy="742.75" r="3.30"/>
<circle cx="81.30" cy="742.75" r="3.30"/>
<circle cx="85.80" cy="742.75" r="3.30"/>
<circle cx="93.50" cy="742.75" r="3.30"/>
<circle cx="97.91" cy="742.75" r="3.30"/>
<circle cx="102.32" cy="742.75" r="3.30"/>
<circle cx="106.73" cy="742.75" r="3.30"/>
<circle cx="111.14" cy="742.75" r="3.30"/>
<circle cx="115.56" cy="742.75" r="3.30"/>
<circle cx="119.97" cy="742.75" r="3.30"/>
<circle cx="124.38" cy="742.75" r="3.30"/>
<circle cx="128.79" cy="742.75" r="3.30"/>
<circle cx="133.20" cy="742.75" r="3.30"/>
<circle cx="143.30" cy="742.75" r="3.30"/>
<circle cx="146.70" cy="742.75" r="3.30"/>
<circle cx="155.10" cy="742.75" r="3.30"/>
<circle cx="159.03" cy="742.75" r="3.30"/>
<circle cx="162.97" cy="742.75" r="3.30"/>
<circle cx="166.90" cy="742.75" r="3.30"/>
<rect x="47.00" y="587.00" width="217.60" height="168.85" fill="none" stroke="#000" stroke-width="1.40"/>
<line x1="47.00" y1="742.75" x2="52.00" y2="742.75" stroke="#000" stroke-width="1.40"/>
<text transform="translate(40.40,747.75) scale(0.965,1)" font-size="14.00" text-anchor="end">0.0</text>
<line x1="47.00" y1="715.78" x2="52.00" y2="715.78" stroke="#000" stroke-width="1.40"/>
<text transform="translate(40.40,720.78) scale(0.965,1)" font-size="14.00" text-anchor="end">0.2</text>
<line x1="47.00" y1="688.81" x2="52.00" y2="688.81" stroke="#000" stroke-width="1.40"/>
<text transform="translate(40.40,693.81) scale(0.965,1)" font-size="14.00" text-anchor="end">0.4</text>
<line x1="47.00" y1="661.84" x2="52.00" y2="661.84" stroke="#000" stroke-width="1.40"/>
<text transform="translate(40.40,666.84) scale(0.965,1)" font-size="14.00" text-anchor="end">0.6</text>
<line x1="47.00" y1="634.87" x2="52.00" y2="634.87" stroke="#000" stroke-width="1.40"/>
<text transform="translate(40.40,639.87) scale(0.965,1)" font-size="14.00" text-anchor="end">0.8</text>
<line x1="47.00" y1="607.90" x2="52.00" y2="607.90" stroke="#000" stroke-width="1.40"/>
<text transform="translate(40.40,612.90) scale(0.965,1)" font-size="14.00" text-anchor="end">1.0</text>
<line x1="70.30" y1="755.85" x2="70.30" y2="750.85" stroke="#000" stroke-width="1.40"/>
<text transform="translate(70.30,775.00) scale(0.965,1)" font-size="14.00" text-anchor="middle">0.3</text>
<line x1="116.50" y1="755.85" x2="116.50" y2="750.85" stroke="#000" stroke-width="1.40"/>
<text transform="translate(116.50,775.00) scale(0.965,1)" font-size="14.00" text-anchor="middle">0.4</text>
<line x1="162.70" y1="755.85" x2="162.70" y2="750.85" stroke="#000" stroke-width="1.40"/>
<text transform="translate(162.70,775.00) scale(0.965,1)" font-size="14.00" text-anchor="middle">0.5</text>
<line x1="208.90" y1="755.85" x2="208.90" y2="750.85" stroke="#000" stroke-width="1.40"/>
<text transform="translate(208.90,775.00) scale(0.965,1)" font-size="14.00" text-anchor="middle">0.6</text>
<line x1="255.10" y1="755.85" x2="255.10" y2="750.85" stroke="#000" stroke-width="1.40"/>
<text transform="translate(255.10,775.00) scale(0.965,1)" font-size="14.00" text-anchor="middle">0.7</text>
<text transform="translate(51.60,599.90) scale(0.971,1)" font-size="14.00" font-style="italic">Q. viminea</text>
<text transform="translate(10.80,671.02) rotate(-90) scale(0.971,1)" font-size="14.00" text-anchor="middle">Germination probability</text>
<clipPath id="c31"><rect x="300.80" y="587.00" width="217.60" height="168.85"/></clipPath>
<polyline clip-path="url(#c31)" points="300.80,735.75 301.30,735.64 301.80,735.53 302.30,735.41 302.80,735.29 303.30,735.17 303.80,735.05 304.30,734.93 304.80,734.80 305.30,734.67 305.80,734.54 306.30,734.41 306.80,734.28 307.30,734.14 307.80,734.01 308.30,733.87 308.80,733.73 309.30,733.58 309.80,733.44 310.30,733.29 310.80,733.14 311.30,732.99 311.80,732.84 312.30,732.68 312.80,732.52 313.30,732.36 313.80,732.20 314.30,732.03 314.80,731.86 315.30,731.69 315.80,731.52 316.30,731.35 316.80,731.17 317.30,730.99 317.80,730.80 318.30,730.62 318.80,730.43 319.30,730.24 319.80,730.05 320.30,729.85 320.80,729.65 321.30,729.45 321.80,729.25 322.30,729.04 322.80,728.83 323.30,728.62 323.80,728.41 324.30,728.19 324.80,727.97 325.30,727.74 325.80,727.52 326.30,727.29 326.80,727.05 327.30,726.82 327.80,726.58 328.30,726.34 328.80,726.09 329.30,725.84 329.80,725.59 330.30,725.34 330.80,725.08 331.30,724.82 331.80,724.56 332.30,724.29 332.80,724.02 333.30,723.74 333.80,723.47 334.30,723.18 334.80,722.90 335.30,722.61 335.80,722.32 336.30,722.03 336.80,721.73 337.30,721.43 337.80,721.12 338.30,720.81 338.80,720.50 339.30,720.19 339.80,719.87 340.30,719.54 340.80,719.22 341.30,718.89 341.80,718.55 342.30,718.22 342.80,717.88 343.30,717.53 343.80,717.18 344.30,716.83 344.80,716.48 345.30,716.12 345.80,715.75 346.30,715.39 346.80,715.02 347.30,714.64 347.80,714.27 348.30,713.89 348.80,713.50 349.30,713.11 349.80,712.72 350.30,712.32 350.80,711.92 351.30,711.52 351.80,711.11 352.30,710.70 352.80,710.29 353.30,709.87 353.80,709.45 354.30,709.02 354.80,708.59 355.30,708.16 355.80,707.72 356.30,707.28 356.80,706.84 357.30,706.39 357.80,705.94 358.30,705.49 358.80,705.03 359.30,704.57 359.80,704.11 360.30,703.64 360.80,703.17 361.30,702.70 361.80,702.22 362.30,701.74 362.80,701.25 363.30,700.77 363.80,700.28 364.30,699.78 364.80,699.29 365.30,698.79 365.80,698.29 366.30,697.78 366.80,697.27 367.30,696.76 367.80,696.25 368.30,695.74 368.80,695.22 369.30,694.70 369.80,694.17 370.30,693.65 370.80,693.12 371.30,692.59 371.80,692.05 372.30,691.52 372.80,690.98 373.30,690.44 373.80,689.90 374.30,689.35 374.80,688.81 375.30,688.26 375.80,687.71 376.30,687.16 376.80,686.61 377.30,686.05 377.80,685.50 378.30,684.94 378.80,684.38 379.30,683.82 379.80,683.26 380.30,682.70 380.80,682.14 381.30,681.57 381.80,681.01 382.30,680.44 382.80,679.87 383.30,679.31 383.80,678.74 384.30,678.17 384.80,677.60 385.30,677.03 385.80,676.46 386.30,675.89 386.80,675.32 387.30,674.76 387.80,674.19 388.30,673.62 388.80,673.05 389.30,672.48 389.80,671.91 390.30,671.34 390.80,670.78 391.30,670.21 391.80,669.64 392.30,669.08 392.80,668.51 393.30,667.95 393.80,667.39 394.30,666.83 394.80,666.27 395.30,665.71 395.80,665.15 396.30,664.60 396.80,664.04 397.30,663.49 397.80,662.94 398.30,662.39 398.80,661.84 399.30,661.30 399.80,660.75 400.30,660.21 400.80,659.67 401.30,659.13 401.80,658.60 402.30,658.06 402.80,657.53 403.30,657.00 403.80,656.48 404.30,655.95 404.80,655.43 405.30,654.91 405.80,654.40 406.30,653.89 406.80,653.38 407.30,652.87 407.80,652.36 408.30,651.86 408.80,651.36 409.30,650.87 409.80,650.37 410.30,649.88 410.80,649.40 411.30,648.91 411.80,648.43 412.30,647.95 412.80,647.48 413.30,647.01 413.80,646.54 414.30,646.08 414.80,645.62 415.30,645.16 415.80,644.71 416.30,644.26 416.80,643.81 417.30,643.37 417.80,642.93 418.30,642.49 418.80,642.06 419.30,641.63 419.80,641.20 420.30,640.78 420.80,640.36 421.30,639.95 421.80,639.54 422.30,639.13 422.80,638.73 423.30,638.33 423.80,637.93 424.30,637.54 424.80,637.15 425.30,636.76 425.80,636.38 426.30,636.01 426.80,635.63 427.30,635.26 427.80,634.90 428.30,634.53 428.80,634.17 429.30,633.82 429.80,633.47 430.30,633.12 430.80,632.77 431.30,632.43 431.80,632.10 432.30,631.76 432.80,631.43 433.30,631.11 433.80,630.78 434.30,630.46 434.80,630.15 435.30,629.84 435.80,629.53 436.30,629.22 436.80,628.92 437.30,628.62 437.80,628.33 438.30,628.04 438.80,627.75 439.30,627.47 439.80,627.18 440.30,626.91 440.80,626.63 441.30,626.36 441.80,626.09 442.30,625.83 442.80,625.57 443.30,625.31 443.80,625.06 444.30,624.81 444.80,624.56 445.30,624.31 445.80,624.07 446.30,623.83 446.80,623.60 447.30,623.36 447.80,623.13 448.30,622.91 448.80,622.68 449.30,622.46 449.80,622.24 450.30,622.03 450.80,621.82 451.30,621.61 451.80,621.40 452.30,621.20 452.80,621.00 453.30,620.80 453.80,620.60 454.30,620.41 454.80,620.22 455.30,620.03 455.80,619.85 456.30,619.66 456.80,619.48 457.30,619.30 457.80,619.13 458.30,618.96 458.80,618.79 459.30,618.62 459.80,618.45 460.30,618.29 460.80,618.13 461.30,617.97 461.80,617.81 462.30,617.66 462.80,617.51 463.30,617.36 463.80,617.21 464.30,617.07 464.80,616.92 465.30,616.78 465.80,616.64 466.30,616.51 466.80,616.37 467.30,616.24 467.80,616.11 468.30,615.98 468.80,615.85 469.30,615.72 469.80,615.60 470.30,615.48 470.80,615.36 471.30,615.24 471.80,615.12 472.30,615.01 472.80,614.90 473.30,614.79 473.80,614.68 474.30,614.57 474.80,614.46 475.30,614.36 475.80,614.25 476.30,614.15 476.80,614.05 477.30,613.95 477.80,613.86 478.30,613.76 478.80,613.67 479.30,613.58 479.80,613.48 480.30,613.39 480.80,613.31 481.30,613.22 481.80,613.13 482.30,613.05 482.80,612.97 483.30,612.88 483.80,612.80 484.30,612.72 484.80,612.65 485.30,612.57 485.80,612.49 486.30,612.42 486.80,612.35 487.30,612.28 487.80,612.20 488.30,612.13 488.80,612.07 489.30,612.00 489.80,611.93 490.30,611.87 490.80,611.80 491.30,611.74 491.80,611.68 492.30,611.61 492.80,611.55 493.30,611.49 493.80,611.44 494.30,611.38 494.80,611.32 495.30,611.26 495.80,611.21 496.30,611.16 496.80,611.10 497.30,611.05 497.80,611.00 498.30,610.95 498.80,610.90 499.30,610.85 499.80,610.80 500.30,610.75 500.80,610.71 501.30,610.66 501.80,610.61 502.30,610.57 502.80,610.53 503.30,610.48 503.80,610.44 504.30,610.40 504.80,610.36 505.30,610.32 505.80,610.28 506.30,610.24 506.80,610.20 507.30,610.16 507.80,610.12 508.30,610.09 508.80,610.05 509.30,610.02 509.80,609.98 510.30,609.95 510.80,609.91 511.30,609.88 511.80,609.85 512.30,609.82 512.80,609.78 513.30,609.75 513.80,609.72 514.30,609.69 514.80,609.66 515.30,609.63 515.80,609.60 516.30,609.58 516.80,609.55 517.30,609.52 517.80,609.49 518.30,609.47" fill="none" stroke="#000" stroke-width="1.20"/>
<circle cx="350.70" cy="607.90" r="3.30"/>
<circle cx="354.70" cy="607.90" r="3.30"/>
<circle cx="364.90" cy="607.90" r="3.30"/>
<circle cx="369.61" cy="607.90" r="3.30"/>
<circle cx="374.33" cy="607.90" r="3.30"/>
<circle cx="379.04" cy="607.90" r="3.30"/>
<circle cx="383.76" cy="607.90" r="3.30"/>
<circle cx="388.47" cy="607.90" r="3.30"/>
<circle cx="393.19" cy="607.90" r="3.30"/>
<circle cx="397.90" cy="607.90" r="3.30"/>
<circle cx="402.61" cy="607.90" r="3.30"/>
<circle cx="407.33" cy="607.90" r="3.30"/>
<circle cx="412.04" cy="607.90" r="3.30"/>
<circle cx="416.76" cy="607.90" r="3.30"/>
<circle cx="421.47" cy="607.90" r="3.30"/>
<circle cx="426.19" cy="607.90" r="3.30"/>
<circle cx="430.90" cy="607.90" r="3.30"/>
<circle cx="439.30" cy="607.90" r="3.30"/>
<circle cx="443.30" cy="607.90" r="3.30"/>
<circle cx="447.30" cy="607.90" r="3.30"/>
<circle cx="456.60" cy="607.90" r="3.30"/>
<circle cx="459.60" cy="607.90" r="3.30"/>
<circle cx="467.20" cy="607.90" r="3.30"/>
<circle cx="471.60" cy="607.90" r="3.30"/>
<circle cx="476.00" cy="607.90" r="3.30"/>
<circle cx="480.40" cy="607.90" r="3.30"/>
<circle cx="484.80" cy="607.90" r="3.30"/>
<circle cx="489.20" cy="607.90" r="3.30"/>
<circle cx="328.10" cy="742.75" r="3.30"/>
<circle cx="331.73" cy="742.75" r="3.30"/>
<circle cx="335.35" cy="742.75" r="3.30"/>
<circle cx="338.97" cy="742.75" r="3.30"/>
<circle cx="342.60" cy="742.75" r="3.30"/>
<circle cx="353.00" cy="742.75" r="3.30"/>
<circle cx="357.64" cy="742.75" r="3.30"/>
<circle cx="362.27" cy="742.75" r="3.30"/>
<circle cx="366.91" cy="742.75" r="3.30"/>
<circle cx="371.55" cy="742.75" r="3.30"/>
<circle cx="376.18" cy="742.75" r="3.30"/>
<circle cx="380.82" cy="742.75" r="3.30"/>
<circle cx="385.45" cy="742.75" r="3.30"/>
<circle cx="390.09" cy="742.75" r="3.30"/>
<circle cx="394.73" cy="742.75" r="3.30"/>
<circle cx="399.36" cy="742.75" r="3.30"/>
<circle cx="404.00" cy="742.75" r="3.30"/>
<circle cx="412.30" cy="742.75" r="3.30"/>
<circle cx="416.27" cy="742.75" r="3.30"/>
<circle cx="420.23" cy="742.75" r="3.30"/>
<circle cx="424.20" cy="742.75" r="3.30"/>
<circle cx="430.80" cy="742.75" r="3.30"/>
<circle cx="443.30" cy="742.75" r="3.30"/>
<circle cx="462.00" cy="742.75" r="3.30"/>
<rect x="300.80" y="587.00" width="217.60" height="168.85" fill="none" stroke="#000" stroke-width="1.40"/>
<line x1="300.80" y1="742.75" x2="305.80" y2="742.75" stroke="#000" stroke-width="1.40"/>
<text transform="translate(294.20,747.75) scale(0.965,1)" font-size="14.00" text-anchor="end">0.0</text>
<line x1="300.80" y1="715.78" x2="305.80" y2="715.78" stroke="#000" stroke-width="1.40"/>
<text transform="translate(294.20,720.78) scale(0.965,1)" font-size="14.00" text-anchor="end">0.2</text>
<line x1="300.80" y1="688.81" x2="305.80" y2="688.81" stroke="#000" stroke-width="1.40"/>
<text transform="translate(294.20,693.81) scale(0.965,1)" font-size="14.00" text-anchor="end">0.4</text>
<line x1="300.80" y1="661.84" x2="305.80" y2="661.84" stroke="#000" stroke-width="1.40"/>
<text transform="translate(294.20,666.84) scale(0.965,1)" font-size="14.00" text-anchor="end">0.6</text>
<line x1="300.80" y1="634.87" x2="305.80" y2="634.87" stroke="#000" stroke-width="1.40"/>
<text transform="translate(294.20,639.87) scale(0.965,1)" font-size="14.00" text-anchor="end">0.8</text>
<line x1="300.80" y1="607.90" x2="305.80" y2="607.90" stroke="#000" stroke-width="1.40"/>
<text transform="translate(294.20,612.90) scale(0.965,1)" font-size="14.00" text-anchor="end">1.0</text>
<line x1="330.00" y1="755.85" x2="330.00" y2="750.85" stroke="#000" stroke-width="1.40"/>
<text transform="translate(330.00,775.00) scale(0.965,1)" font-size="14.00" text-anchor="middle">1.5</text>
<line x1="371.80" y1="755.85" x2="371.80" y2="750.85" stroke="#000" stroke-width="1.40"/>
<text transform="translate(371.80,775.00) scale(0.965,1)" font-size="14.00" text-anchor="middle">2.0</text>
<line x1="413.60" y1="755.85" x2="413.60" y2="750.85" stroke="#000" stroke-width="1.40"/>
<text transform="translate(413.60,775.00) scale(0.965,1)" font-size="14.00" text-anchor="middle">2.5</text>
<line x1="455.40" y1="755.85" x2="455.40" y2="750.85" stroke="#000" stroke-width="1.40"/>
<text transform="translate(455.40,775.00) scale(0.965,1)" font-size="14.00" text-anchor="middle">3.0</text>
<line x1="497.20" y1="755.85" x2="497.20" y2="750.85" stroke="#000" stroke-width="1.40"/>
<text transform="translate(497.20,775.00) scale(0.965,1)" font-size="14.00" text-anchor="middle">3.5</text>
<text transform="translate(305.40,599.90) scale(0.971,1)" font-size="14.00" font-style="italic">Q. laeta</text>
<clipPath id="c40"><rect x="47.00" y="782.10" width="217.60" height="168.85"/></clipPath>
<polyline clip-path="url(#c40)" points="47.00,925.21 47.50,925.06 48.00,924.91 48.50,924.76 49.00,924.61 49.50,924.46 50.00,924.30 50.50,924.15 51.00,923.99 51.50,923.83 52.00,923.67 52.50,923.50 53.00,923.34 53.50,923.17 54.00,923.00 54.50,922.83 55.00,922.66 55.50,922.49 56.00,922.31 56.50,922.13 57.00,921.96 57.50,921.78 58.00,921.59 58.50,921.41 59.00,921.22 59.50,921.04 60.00,920.85 60.50,920.66 61.00,920.46 61.50,920.27 62.00,920.07 62.50,919.87 63.00,919.67 63.50,919.47 64.00,919.27 64.50,919.06 65.00,918.85 65.50,918.64 66.00,918.43 66.50,918.22 67.00,918.00 67.50,917.78 68.00,917.56 68.50,917.34 69.00,917.12 69.50,916.89 70.00,916.66 70.50,916.43 71.00,916.20 71.50,915.97 72.00,915.73 72.50,915.50 73.00,915.26 73.50,915.01 74.00,914.77 74.50,914.52 75.00,914.28 75.50,914.03 76.00,913.77 76.50,913.52 77.00,913.26 77.50,913.00 78.00,912.74 78.50,912.48 79.00,912.22 79.50,911.95 80.00,911.68 80.50,911.41 81.00,911.14 81.50,910.86 82.00,910.58 82.50,910.30 83.00,910.02 83.50,909.74 84.00,909.45 84.50,909.16 85.00,908.87 85.50,908.58 86.00,908.29 86.50,907.99 87.00,907.69 87.50,907.39 88.00,907.09 88.50,906.78 89.00,906.48 89.50,906.17 90.00,905.85 90.50,905.54 91.00,905.23 91.50,904.91 92.00,904.59 92.50,904.27 93.00,903.94 93.50,903.62 94.00,903.29 94.50,902.96 95.00,902.63 95.50,902.29 96.00,901.96 96.50,901.62 97.00,901.28 97.50,900.93 98.00,900.59 98.50,900.24 99.00,899.90 99.50,899.55 100.00,899.19 100.50,898.84 101.00,898.48 101.50,898.13 102.00,897.77 102.50,897.40 103.00,897.04 103.50,896.68 104.00,896.31 104.50,895.94 105.00,895.57 105.50,895.20 106.00,894.82 106.50,894.45 107.00,894.07 107.50,893.69 108.00,893.31 108.50,892.93 109.00,892.54 109.50,892.15 110.00,891.77 110.50,891.38 111.00,890.99 111.50,890.59 112.00,890.20 112.50,889.81 113.00,889.41 113.50,889.01 114.00,888.61 114.50,888.21 115.00,887.81 115.50,887.40 116.00,887.00 116.50,886.59 117.00,886.19 117.50,885.78 118.00,885.37 118.50,884.96 119.00,884.54 119.50,884.13 120.00,883.72 120.50,883.30 121.00,882.88 121.50,882.47 122.00,882.05 122.50,881.63 123.00,881.21 123.50,880.79 124.00,880.37 124.50,879.94 125.00,879.52 125.50,879.10 126.00,878.67 126.50,878.25 127.00,877.82 127.50,877.39 128.00,876.97 128.50,876.54 129.00,876.11 129.50,875.68 130.00,875.25 130.50,874.82 131.00,874.39 131.50,873.96 132.00,873.53 132.50,873.10 133.00,872.67 133.50,872.24 134.00,871.81 134.50,871.37 135.00,870.94 135.50,870.51 136.00,870.08 136.50,869.65 137.00,869.22 137.50,868.79 138.00,868.35 138.50,867.92 139.00,867.49 139.50,867.06 140.00,866.63 140.50,866.20 141.00,865.77 141.50,865.34 142.00,864.91 142.50,864.48 143.00,864.06 143.50,863.63 144.00,863.20 144.50,862.77 145.00,862.35 145.50,861.92 146.00,861.50 146.50,861.08 147.00,860.65 147.50,860.23 148.00,859.81 148.50,859.39 149.00,858.97 149.50,858.55 150.00,858.13 150.50,857.72 151.00,857.30 151.50,856.88 152.00,856.47 152.50,856.06 153.00,855.65 153.50,855.24 154.00,854.83 154.50,854.42 155.00,854.01 155.50,853.61 156.00,853.20 156.50,852.80 157.00,852.40 157.50,852.00 158.00,851.60 158.50,851.20 159.00,850.81 159.50,850.41 160.00,850.02 160.50,849.63 161.00,849.24 161.50,848.85 162.00,848.46 162.50,848.08 163.00,847.70 163.50,847.31 164.00,846.93 164.50,846.55 165.00,846.18 165.50,845.80 166.00,845.43 166.50,845.06 167.00,844.69 167.50,844.32 168.00,843.95 168.50,843.59 169.00,843.23 169.50,842.87 170.00,842.51 170.50,842.15 171.00,841.80 171.50,841.44 172.00,841.09 172.50,840.74 173.00,840.40 173.50,840.05 174.00,839.71 174.50,839.37 175.00,839.03 175.50,838.69 176.00,838.36 176.50,838.02 177.00,837.69 177.50,837.36 178.00,837.04 178.50,836.71 179.00,836.39 179.50,836.07 180.00,835.75 180.50,835.43 181.00,835.12 181.50,834.81 182.00,834.50 182.50,834.19 183.00,833.88 183.50,833.58 184.00,833.28 184.50,832.98 185.00,832.68 185.50,832.39 186.00,832.09 186.50,831.80 187.00,831.51 187.50,831.23 188.00,830.94 188.50,830.66 189.00,830.38 189.50,830.10 190.00,829.82 190.50,829.55 191.00,829.28 191.50,829.01 192.00,828.74 192.50,828.47 193.00,828.21 193.50,827.95 194.00,827.69 194.50,827.43 195.00,827.18 195.50,826.92 196.00,826.67 196.50,826.43 197.00,826.18 197.50,825.93 198.00,825.69 198.50,825.45 199.00,825.21 199.50,824.98 200.00,824.74 200.50,824.51 201.00,824.28 201.50,824.05 202.00,823.82 202.50,823.60 203.00,823.38 203.50,823.16 204.00,822.94 204.50,822.72 205.00,822.51 205.50,822.29 206.00,822.08 206.50,821.87 207.00,821.67 207.50,821.46 208.00,821.26 208.50,821.06 209.00,820.86 209.50,820.66 210.00,820.47 210.50,820.27 211.00,820.08 211.50,819.89 212.00,819.70 212.50,819.51 213.00,819.33 213.50,819.15 214.00,818.97 214.50,818.79 215.00,818.61 215.50,818.43 216.00,818.26 216.50,818.09 217.00,817.92 217.50,817.75 218.00,817.58 218.50,817.41 219.00,817.25 219.50,817.09 220.00,816.93 220.50,816.77 221.00,816.61 221.50,816.45 222.00,816.30 222.50,816.15 223.00,816.00 223.50,815.85 224.00,815.70 224.50,815.55 225.00,815.41 225.50,815.26 226.00,815.12 226.50,814.98 227.00,814.84 227.50,814.70 228.00,814.57 228.50,814.43 229.00,814.30 229.50,814.17 230.00,814.04 230.50,813.91 231.00,813.78 231.50,813.65 232.00,813.53 232.50,813.41 233.00,813.28 233.50,813.16 234.00,813.04 234.50,812.93 235.00,812.81 235.50,812.69 236.00,812.58 236.50,812.46 237.00,812.35 237.50,812.24 238.00,812.13 238.50,812.02 239.00,811.92 239.50,811.81 240.00,811.71 240.50,811.60 241.00,811.50 241.50,811.40 242.00,811.30 242.50,811.20 243.00,811.10 243.50,811.00 244.00,810.91 244.50,810.81 245.00,810.72 245.50,810.63 246.00,810.53 246.50,810.44 247.00,810.35 247.50,810.27 248.00,810.18 248.50,810.09 249.00,810.01 249.50,809.92 250.00,809.84 250.50,809.76 251.00,809.67 251.50,809.59 252.00,809.51 252.50,809.43 253.00,809.36 253.50,809.28 254.00,809.20 254.50,809.13 255.00,809.05 255.50,808.98 256.00,808.91 256.50,808.84 257.00,808.76 257.50,808.69 258.00,808.62 258.50,808.56 259.00,808.49 259.50,808.42 260.00,808.35 260.50,808.29 261.00,808.22 261.50,808.16 262.00,808.10 262.50,808.04 263.00,807.97 263.50,807.91 264.00,807.85 264.50,807.79" fill="none" stroke="#000" stroke-width="1.20"/>
<circle cx="100.30" cy="803.00" r="3.30"/>
<circle cx="103.60" cy="803.00" r="3.30"/>
<circle cx="111.90" cy="803.00" r="3.30"/>
<circle cx="116.50" cy="803.00" r="3.30"/>
<circle cx="121.10" cy="803.00" r="3.30"/>
<circle cx="125.70" cy="803.00" r="3.30"/>
<circle cx="130.30" cy="803.00" r="3.30"/>
<circle cx="134.90" cy="803.00" r="3.30"/>
<circle cx="139.50" cy="803.00" r="3.30"/>
<circle cx="144.10" cy="803.00" r="3.30"/>
<circle cx="148.70" cy="803.00" r="3.30"/>
<circle cx="153.30" cy="803.00" r="3.30"/>
<circle cx="157.90" cy="803.00" r="3.30"/>
<circle cx="162.50" cy="803.00" r="3.30"/>
<circle cx="167.10" cy="803.00" r="3.30"/>
<circle cx="171.70" cy="803.00" r="3.30"/>
<circle cx="176.30" cy="803.00" r="3.30"/>
<circle cx="180.90" cy="803.00" r="3.30"/>
<circle cx="185.50" cy="803.00" r="3.30"/>
<circle cx="190.10" cy="803.00" r="3.30"/>
<circle cx="194.70" cy="803.00" r="3.30"/>
<circle cx="203.50" cy="803.00" r="3.30"/>
<circle cx="210.90" cy="803.00" r="3.30"/>
<circle cx="214.40" cy="803.00" r="3.30"/>
<circle cx="221.50" cy="803.00" r="3.30"/>
<circle cx="227.90" cy="803.00" r="3.30"/>
<circle cx="229.90" cy="803.00" r="3.30"/>
<circle cx="239.20" cy="803.00" r="3.30"/>
<circle cx="242.70" cy="803.00" r="3.30"/>
<circle cx="71.30" cy="937.85" r="3.30"/>
<circle cx="75.65" cy="937.85" r="3.30"/>
<circle cx="80.00" cy="937.85" r="3.30"/>
<circle cx="88.55" cy="937.85" r="3.30"/>
<circle cx="97.10" cy="937.85" r="3.30"/>
<circle cx="101.88" cy="937.85" r="3.30"/>
<circle cx="106.65" cy="937.85" r="3.30"/>
<circle cx="111.42" cy="937.85" r="3.30"/>
<circle cx="116.20" cy="937.85" r="3.30"/>
<circle cx="120.97" cy="937.85" r="3.30"/>
<circle cx="125.75" cy="937.85" r="3.30"/>
<circle cx="130.52" cy="937.85" r="3.30"/>
<circle cx="135.30" cy="937.85" r="3.30"/>
<circle cx="144.10" cy="937.85" r="3.30"/>
<circle cx="147.15" cy="937.85" r="3.30"/>
<circle cx="150.20" cy="937.85" r="3.30"/>
<circle cx="158.10" cy="937.85" r="3.30"/>
<circle cx="162.75" cy="937.85" r="3.30"/>
<circle cx="167.40" cy="937.85" r="3.30"/>
<circle cx="177.10" cy="937.85" r="3.30"/>
<circle cx="180.53" cy="937.85" r="3.30"/>
<circle cx="183.97" cy="937.85" r="3.30"/>
<circle cx="187.40" cy="937.85" r="3.30"/>
<circle cx="223.30" cy="937.85" r="3.30"/>
<rect x="47.00" y="782.10" width="217.60" height="168.85" fill="none" stroke="#000" stroke-width="1.40"/>
<line x1="47.00" y1="937.85" x2="52.00" y2="937.85" stroke="#000" stroke-width="1.40"/>
<text transform="translate(40.40,942.85) scale(0.965,1)" font-size="14.00" text-anchor="end">0.0</text>
<line x1="47.00" y1="910.88" x2="52.00" y2="910.88" stroke="#000" stroke-width="1.40"/>
<text transform="translate(40.40,915.88) scale(0.965,1)" font-size="14.00" text-anchor="end">0.2</text>
<line x1="47.00" y1="883.91" x2="52.00" y2="883.91" stroke="#000" stroke-width="1.40"/>
<text transform="translate(40.40,888.91) scale(0.965,1)" font-size="14.00" text-anchor="end">0.4</text>
<line x1="47.00" y1="856.94" x2="52.00" y2="856.94" stroke="#000" stroke-width="1.40"/>
<text transform="translate(40.40,861.94) scale(0.965,1)" font-size="14.00" text-anchor="end">0.6</text>
<line x1="47.00" y1="829.97" x2="52.00" y2="829.97" stroke="#000" stroke-width="1.40"/>
<text transform="translate(40.40,834.97) scale(0.965,1)" font-size="14.00" text-anchor="end">0.8</text>
<line x1="47.00" y1="803.00" x2="52.00" y2="803.00" stroke="#000" stroke-width="1.40"/>
<text transform="translate(40.40,808.00) scale(0.965,1)" font-size="14.00" text-anchor="end">1.0</text>
<line x1="80.40" y1="950.95" x2="80.40" y2="945.95" stroke="#000" stroke-width="1.40"/>
<text transform="translate(80.40,970.10) scale(0.965,1)" font-size="14.00" text-anchor="middle">1.0</text>
<line x1="122.22" y1="950.95" x2="122.22" y2="945.95" stroke="#000" stroke-width="1.40"/>
<text transform="translate(122.22,970.10) scale(0.965,1)" font-size="14.00" text-anchor="middle">1.5</text>
<line x1="164.05" y1="950.95" x2="164.05" y2="945.95" stroke="#000" stroke-width="1.40"/>
<text transform="translate(164.05,970.10) scale(0.965,1)" font-size="14.00" text-anchor="middle">2.0</text>
<line x1="205.88" y1="950.95" x2="205.88" y2="945.95" stroke="#000" stroke-width="1.40"/>
<text transform="translate(205.88,970.10) scale(0.965,1)" font-size="14.00" text-anchor="middle">2.5</text>
<line x1="247.70" y1="950.95" x2="247.70" y2="945.95" stroke="#000" stroke-width="1.40"/>
<text transform="translate(247.70,970.10) scale(0.965,1)" font-size="14.00" text-anchor="middle">3.0</text>
<text transform="translate(51.60,795.00) scale(0.971,1)" font-size="14.00" font-style="italic">Q. polymorpha</text>
<text transform="translate(10.80,866.13) rotate(-90) scale(0.971,1)" font-size="14.00" text-anchor="middle">Germination probability</text>
<clipPath id="c41"><rect x="300.80" y="782.10" width="217.60" height="168.85"/></clipPath>
<polyline clip-path="url(#c41)" points="300.80,923.00 301.30,922.82 301.80,922.64 302.30,922.45 302.80,922.27 303.30,922.08 303.80,921.89 304.30,921.70 304.80,921.50 305.30,921.31 305.80,921.11 306.30,920.91 306.80,920.71 307.30,920.51 307.80,920.30 308.30,920.09 308.80,919.88 309.30,919.67 309.80,919.46 310.30,919.24 310.80,919.02 311.30,918.80 311.80,918.58 312.30,918.35 312.80,918.13 313.30,917.90 313.80,917.67 314.30,917.43 314.80,917.20 315.30,916.96 315.80,916.72 316.30,916.48 316.80,916.23 317.30,915.98 317.80,915.73 318.30,915.48 318.80,915.23 319.30,914.97 319.80,914.71 320.30,914.45 320.80,914.19 321.30,913.92 321.80,913.66 322.30,913.39 322.80,913.11 323.30,912.84 323.80,912.56 324.30,912.28 324.80,912.00 325.30,911.72 325.80,911.43 326.30,911.14 326.80,910.85 327.30,910.55 327.80,910.26 328.30,909.96 328.80,909.66 329.30,909.36 329.80,909.05 330.30,908.74 330.80,908.43 331.30,908.12 331.80,907.80 332.30,907.49 332.80,907.17 333.30,906.84 333.80,906.52 334.30,906.19 334.80,905.86 335.30,905.53 335.80,905.20 336.30,904.86 336.80,904.52 337.30,904.18 337.80,903.84 338.30,903.49 338.80,903.14 339.30,902.79 339.80,902.44 340.30,902.08 340.80,901.73 341.30,901.37 341.80,901.01 342.30,900.64 342.80,900.28 343.30,899.91 343.80,899.54 344.30,899.16 344.80,898.79 345.30,898.41 345.80,898.03 346.30,897.65 346.80,897.27 347.30,896.88 347.80,896.50 348.30,896.11 348.80,895.71 349.30,895.32 349.80,894.92 350.30,894.53 350.80,894.13 351.30,893.73 351.80,893.32 352.30,892.92 352.80,892.51 353.30,892.10 353.80,891.69 354.30,891.28 354.80,890.87 355.30,890.45 355.80,890.03 356.30,889.61 356.80,889.19 357.30,888.77 357.80,888.35 358.30,887.92 358.80,887.50 359.30,887.07 359.80,886.64 360.30,886.21 360.80,885.77 361.30,885.34 361.80,884.91 362.30,884.47 362.80,884.03 363.30,883.59 363.80,883.15 364.30,882.71 364.80,882.27 365.30,881.83 365.80,881.38 366.30,880.94 366.80,880.49 367.30,880.04 367.80,879.60 368.30,879.15 368.80,878.70 369.30,878.25 369.80,877.80 370.30,877.34 370.80,876.89 371.30,876.44 371.80,875.99 372.30,875.53 372.80,875.08 373.30,874.62 373.80,874.17 374.30,873.71 374.80,873.26 375.30,872.80 375.80,872.34 376.30,871.89 376.80,871.43 377.30,870.97 377.80,870.52 378.30,870.06 378.80,869.60 379.30,869.15 379.80,868.69 380.30,868.23 380.80,867.78 381.30,867.32 381.80,866.87 382.30,866.41 382.80,865.95 383.30,865.50 383.80,865.05 384.30,864.59 384.80,864.14 385.30,863.69 385.80,863.23 386.30,862.78 386.80,862.33 387.30,861.88 387.80,861.43 388.30,860.99 388.80,860.54 389.30,860.09 389.80,859.65 390.30,859.20 390.80,858.76 391.30,858.32 391.80,857.87 392.30,857.43 392.80,856.99 393.30,856.56 393.80,856.12 394.30,855.68 394.80,855.25 395.30,854.82 395.80,854.38 396.30,853.95 396.80,853.53 397.30,853.10 397.80,852.67 398.30,852.25 398.80,851.82 399.30,851.40 399.80,850.98 400.30,850.57 400.80,850.15 401.30,849.74 401.80,849.32 402.30,848.91 402.80,848.50 403.30,848.09 403.80,847.69 404.30,847.28 404.80,846.88 405.30,846.48 405.80,846.08 406.30,845.69 406.80,845.29 407.30,844.90 407.80,844.51 408.30,844.12 408.80,843.74 409.30,843.35 409.80,842.97 410.30,842.59 410.80,842.21 411.30,841.84 411.80,841.46 412.30,841.09 412.80,840.72 413.30,840.35 413.80,839.99 414.30,839.63 414.80,839.27 415.30,838.91 415.80,838.55 416.30,838.20 416.80,837.85 417.30,837.50 417.80,837.15 418.30,836.81 418.80,836.47 419.30,836.13 419.80,835.79 420.30,835.45 420.80,835.12 421.30,834.79 421.80,834.46 422.30,834.14 422.80,833.81 423.30,833.49 423.80,833.17 424.30,832.86 424.80,832.54 425.30,832.23 425.80,831.92 426.30,831.62 426.80,831.31 427.30,831.01 427.80,830.71 428.30,830.41 428.80,830.12 429.30,829.83 429.80,829.54 430.30,829.25 430.80,828.96 431.30,828.68 431.80,828.40 432.30,828.12 432.80,827.85 433.30,827.57 433.80,827.30 434.30,827.03 434.80,826.77 435.30,826.50 435.80,826.24 436.30,825.98 436.80,825.72 437.30,825.47 437.80,825.22 438.30,824.97 438.80,824.72 439.30,824.47 439.80,824.23 440.30,823.99 440.80,823.75 441.30,823.51 441.80,823.28 442.30,823.04 442.80,822.81 443.30,822.59 443.80,822.36 444.30,822.14 444.80,821.92 445.30,821.70 445.80,821.48 446.30,821.26 446.80,821.05 447.30,820.84 447.80,820.63 448.30,820.43 448.80,820.22 449.30,820.02 449.80,819.82 450.30,819.62 450.80,819.42 451.30,819.23 451.80,819.04 452.30,818.85 452.80,818.66 453.30,818.47 453.80,818.29 454.30,818.10 454.80,817.92 455.30,817.74 455.80,817.57 456.30,817.39 456.80,817.22 457.30,817.05 457.80,816.88 458.30,816.71 458.80,816.54 459.30,816.38 459.80,816.22 460.30,816.06 460.80,815.90 461.30,815.74 461.80,815.58 462.30,815.43 462.80,815.28 463.30,815.13 463.80,814.98 464.30,814.83 464.80,814.69 465.30,814.54 465.80,814.40 466.30,814.26 466.80,814.12 467.30,813.98 467.80,813.85 468.30,813.71 468.80,813.58 469.30,813.45 469.80,813.32 470.30,813.19 470.80,813.06 471.30,812.94 471.80,812.81 472.30,812.69 472.80,812.57 473.30,812.45 473.80,812.33 474.30,812.22 474.80,812.10 475.30,811.99 475.80,811.87 476.30,811.76 476.80,811.65 477.30,811.54 477.80,811.43 478.30,811.33 478.80,811.22 479.30,811.12 479.80,811.02 480.30,810.91 480.80,810.81 481.30,810.71 481.80,810.62 482.30,810.52 482.80,810.42 483.30,810.33 483.80,810.24 484.30,810.14 484.80,810.05 485.30,809.96 485.80,809.87 486.30,809.79 486.80,809.70 487.30,809.61 487.80,809.53 488.30,809.45 488.80,809.36 489.30,809.28 489.80,809.20 490.30,809.12 490.80,809.04 491.30,808.96 491.80,808.89 492.30,808.81 492.80,808.74 493.30,808.66 493.80,808.59 494.30,808.52 494.80,808.45 495.30,808.38 495.80,808.31 496.30,808.24 496.80,808.17 497.30,808.10 497.80,808.04 498.30,807.97 498.80,807.91 499.30,807.84 499.80,807.78 500.30,807.72 500.80,807.66 501.30,807.60 501.80,807.54 502.30,807.48 502.80,807.42 503.30,807.36 503.80,807.31 504.30,807.25 504.80,807.19 505.30,807.14 505.80,807.08 506.30,807.03 506.80,806.98 507.30,806.93 507.80,806.88 508.30,806.82 508.80,806.77 509.30,806.73 509.80,806.68 510.30,806.63 510.80,806.58 511.30,806.53 511.80,806.49 512.30,806.44 512.80,806.40 513.30,806.35 513.80,806.31 514.30,806.26 514.80,806.22 515.30,806.18 515.80,806.14 516.30,806.10 516.80,806.06 517.30,806.02 517.80,805.98 518.30,805.94" fill="none" stroke="#000" stroke-width="1.20"/>
<circle cx="356.00" cy="803.00" r="3.30"/>
<circle cx="360.56" cy="803.00" r="3.30"/>
<circle cx="365.11" cy="803.00" r="3.30"/>
<circle cx="369.67" cy="803.00" r="3.30"/>
<circle cx="374.22" cy="803.00" r="3.30"/>
<circle cx="378.78" cy="803.00" r="3.30"/>
<circle cx="383.33" cy="803.00" r="3.30"/>
<circle cx="387.89" cy="803.00" r="3.30"/>
<circle cx="392.44" cy="803.00" r="3.30"/>
<circle cx="397.00" cy="803.00" r="3.30"/>
<circle cx="403.40" cy="803.00" r="3.30"/>
<circle cx="411.40" cy="803.00" r="3.30"/>
<circle cx="416.17" cy="803.00" r="3.30"/>
<circle cx="420.93" cy="803.00" r="3.30"/>
<circle cx="425.70" cy="803.00" r="3.30"/>
<circle cx="434.80" cy="803.00" r="3.30"/>
<circle cx="439.50" cy="803.00" r="3.30"/>
<circle cx="444.20" cy="803.00" r="3.30"/>
<circle cx="453.50" cy="803.00" r="3.30"/>
<circle cx="458.23" cy="803.00" r="3.30"/>
<circle cx="462.96" cy="803.00" r="3.30"/>
<circle cx="467.69" cy="803.00" r="3.30"/>
<circle cx="472.41" cy="803.00" r="3.30"/>
<circle cx="477.14" cy="803.00" r="3.30"/>
<circle cx="481.87" cy="803.00" r="3.30"/>
<circle cx="486.60" cy="803.00" r="3.30"/>
<circle cx="331.30" cy="937.85" r="3.30"/>
<circle cx="335.65" cy="937.85" r="3.30"/>
<circle cx="340.00" cy="937.85" r="3.30"/>
<circle cx="348.30" cy="937.85" r="3.30"/>
<circle cx="352.82" cy="937.85" r="3.30"/>
<circle cx="357.34" cy="937.85" r="3.30"/>
<circle cx="361.85" cy="937.85" r="3.30"/>
<circle cx="366.37" cy="937.85" r="3.30"/>
<circle cx="370.89" cy="937.85" r="3.30"/>
<circle cx="375.41" cy="937.85" r="3.30"/>
<circle cx="379.93" cy="937.85" r="3.30"/>
<circle cx="384.45" cy="937.85" r="3.30"/>
<circle cx="388.96" cy="937.85" r="3.30"/>
<circle cx="393.48" cy="937.85" r="3.30"/>
<circle cx="398.00" cy="937.85" r="3.30"/>
<circle cx="408.10" cy="937.85" r="3.30"/>
<circle cx="412.68" cy="937.85" r="3.30"/>
<circle cx="417.25" cy="937.85" r="3.30"/>
<circle cx="421.82" cy="937.85" r="3.30"/>
<circle cx="426.40" cy="937.85" r="3.30"/>
<circle cx="438.50" cy="937.85" r="3.30"/>
<circle cx="447.60" cy="937.85" r="3.30"/>
<rect x="300.80" y="782.10" width="217.60" height="168.85" fill="none" stroke="#000" stroke-width="1.40"/>
<line x1="300.80" y1="937.85" x2="305.80" y2="937.85" stroke="#000" stroke-width="1.40"/>
<text transform="translate(294.20,942.85) scale(0.965,1)" font-size="14.00" text-anchor="end">0.0</text>
<line x1="300.80" y1="910.88" x2="305.80" y2="910.88" stroke="#000" stroke-width="1.40"/>
<text transform="translate(294.20,915.88) scale(0.965,1)" font-size="14.00" text-anchor="end">0.2</text>
<line x1="300.80" y1="883.91" x2="305.80" y2="883.91" stroke="#000" stroke-width="1.40"/>
<text transform="translate(294.20,888.91) scale(0.965,1)" font-size="14.00" text-anchor="end">0.4</text>
<line x1="300.80" y1="856.94" x2="305.80" y2="856.94" stroke="#000" stroke-width="1.40"/>
<text transform="translate(294.20,861.94) scale(0.965,1)" font-size="14.00" text-anchor="end">0.6</text>
<line x1="300.80" y1="829.97" x2="305.80" y2="829.97" stroke="#000" stroke-width="1.40"/>
<text transform="translate(294.20,834.97) scale(0.965,1)" font-size="14.00" text-anchor="end">0.8</text>
<line x1="300.80" y1="803.00" x2="305.80" y2="803.00" stroke="#000" stroke-width="1.40"/>
<text transform="translate(294.20,808.00) scale(0.965,1)" font-size="14.00" text-anchor="end">1.0</text>
<line x1="333.70" y1="950.95" x2="333.70" y2="945.95" stroke="#000" stroke-width="1.40"/>
<text transform="translate(333.70,970.10) scale(0.965,1)" font-size="14.00" text-anchor="middle">1.0</text>
<line x1="381.03" y1="950.95" x2="381.03" y2="945.95" stroke="#000" stroke-width="1.40"/>
<text transform="translate(381.03,970.10) scale(0.965,1)" font-size="14.00" text-anchor="middle">2.0</text>
<line x1="428.37" y1="950.95" x2="428.37" y2="945.95" stroke="#000" stroke-width="1.40"/>
<text transform="translate(428.37,970.10) scale(0.965,1)" font-size="14.00" text-anchor="middle">3.0</text>
<line x1="475.70" y1="950.95" x2="475.70" y2="945.95" stroke="#000" stroke-width="1.40"/>
<text transform="translate(475.70,970.10) scale(0.965,1)" font-size="14.00" text-anchor="middle">4.0</text>
<text transform="translate(305.40,795.00) scale(0.971,1)" font-size="14.00" font-style="italic">Q. potosina</text>
<text transform="translate(156.40,986.60) scale(0.971,1)" font-size="14.00" text-anchor="middle">Acorn fresh weight (g)</text>
<text transform="translate(410.20,986.60) scale(0.971,1)" font-size="14.00" text-anchor="middle">Acorn fresh weight (g)</text>
</svg></body></html>
